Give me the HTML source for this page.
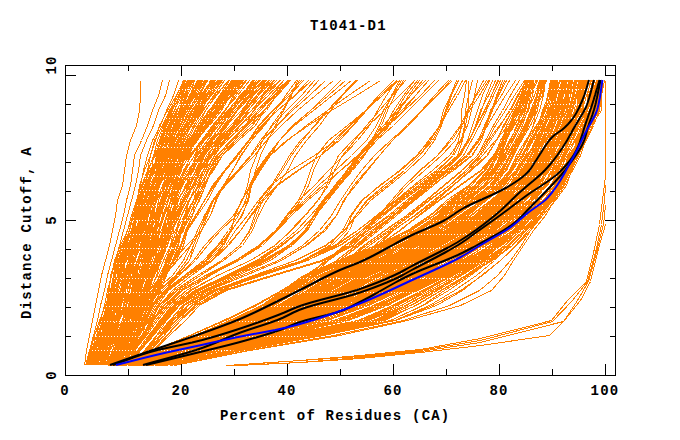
<!DOCTYPE html>
<html><head><meta charset="utf-8"><style>
html,body{margin:0;padding:0;background:#fff;}
body{width:680px;height:440px;overflow:hidden;position:relative;}
svg{position:absolute;left:0;top:0;}
text{font-family:"Liberation Mono",monospace;font-weight:bold;fill:#000;font-size:14px;letter-spacing:1.2px;}
</style></head><body>
<svg width="680" height="440" viewBox="0 0 680 440">
<g fill="none" stroke="#ff8000" stroke-width="1" shape-rendering="crispEdges">
<polyline points="84.5,365.5 86.5,350.5 89.5,335.5 92.5,320.5 95.5,305.5 98.5,290.5 101.5,275.5 105.5,260.5 109.5,245.5 112.5,230.5 115.5,215.5 117.5,200.5 122.5,185.5 124.5,170.5 126.5,155.5 130.5,140.5 136.5,125.5 139.5,110.5 140.5,95.5 140.5,80.5"/>
<polyline points="85.5,365.5 89.5,350.5 93.5,335.5 97.5,320.5 100.5,305.5 104.5,290.5 107.5,275.5 111.5,260.5 115.5,245.5 119.5,230.5 123.5,215.5 126.5,200.5 130.5,185.5 132.5,170.5 134.5,155.5 141.5,140.5 147.5,125.5 152.5,110.5 158.5,95.5 162.5,80.5"/>
<polyline points="87.5,365.5 91.5,350.5 96.5,335.5 100.5,320.5 104.5,305.5 107.5,290.5 111.5,275.5 115.5,260.5 119.5,245.5 123.5,230.5 127.5,215.5 131.5,200.5 135.5,185.5 138.5,170.5 140.5,155.5 146.5,140.5 153.5,125.5 158.5,110.5 165.5,95.5 169.5,80.5"/>
<polyline points="88.5,365.5 93.5,350.5 97.5,335.5 102.5,320.5 106.5,305.5 110.5,290.5 114.5,275.5 118.5,260.5 122.5,245.5 127.5,230.5 131.5,215.5 136.5,200.5 140.5,185.5 143.5,170.5 147.5,155.5 152.5,140.5 160.5,125.5 166.5,110.5 173.5,95.5 178.5,80.5"/>
<polyline points="94.5,365.5 100.5,350.5 105.5,335.5 111.5,320.5 114.5,305.5 118.5,290.5 123.5,275.5 128.5,260.5 129.5,245.5 133.5,230.5 138.5,215.5 143.5,200.5 149.5,185.5 158.5,170.5 168.5,155.5 171.5,140.5 180.5,125.5 185.5,110.5 192.5,95.5 201.5,80.5"/>
<polyline points="88.5,365.5 95.5,350.5 99.5,335.5 103.5,320.5 108.5,305.5 112.5,290.5 113.5,275.5 115.5,260.5 122.5,245.5 131.5,230.5 137.5,215.5 143.5,200.5 147.5,185.5 151.5,170.5 158.5,155.5 164.5,140.5 171.5,125.5 177.5,110.5 182.5,95.5 189.5,80.5"/>
<polyline points="111.5,365.5 118.5,350.5 124.5,335.5 129.5,320.5 135.5,305.5 138.5,290.5 145.5,275.5 149.5,260.5 153.5,245.5 156.5,230.5 160.5,215.5 164.5,200.5 167.5,185.5 174.5,170.5 181.5,155.5 194.5,140.5 204.5,125.5 215.5,110.5 225.5,95.5 237.5,80.5"/>
<polyline points="93.5,365.5 97.5,350.5 104.5,335.5 106.5,320.5 110.5,305.5 115.5,290.5 121.5,275.5 123.5,260.5 130.5,245.5 135.5,230.5 140.5,215.5 144.5,200.5 151.5,185.5 158.5,170.5 165.5,155.5 171.5,140.5 179.5,125.5 187.5,110.5 191.5,95.5 199.5,80.5"/>
<polyline points="90.5,365.5 97.5,350.5 102.5,335.5 107.5,320.5 111.5,305.5 113.5,290.5 115.5,275.5 119.5,260.5 126.5,245.5 131.5,230.5 139.5,215.5 143.5,200.5 148.5,185.5 154.5,170.5 158.5,155.5 164.5,140.5 171.5,125.5 181.5,110.5 185.5,95.5 193.5,80.5"/>
<polyline points="87.5,365.5 93.5,350.5 101.5,335.5 104.5,320.5 111.5,305.5 113.5,290.5 113.5,275.5 116.5,260.5 122.5,245.5 129.5,230.5 132.5,215.5 139.5,200.5 144.5,185.5 148.5,170.5 153.5,155.5 157.5,140.5 163.5,125.5 170.5,110.5 178.5,95.5 187.5,80.5"/>
<polyline points="107.5,365.5 113.5,350.5 122.5,335.5 127.5,320.5 130.5,305.5 134.5,290.5 136.5,275.5 139.5,260.5 141.5,245.5 148.5,230.5 154.5,215.5 161.5,200.5 165.5,185.5 171.5,170.5 182.5,155.5 192.5,140.5 201.5,125.5 209.5,110.5 219.5,95.5 229.5,80.5"/>
<polyline points="105.5,365.5 110.5,350.5 116.5,335.5 122.5,320.5 126.5,305.5 133.5,290.5 138.5,275.5 141.5,260.5 144.5,245.5 149.5,230.5 153.5,215.5 156.5,200.5 159.5,185.5 166.5,170.5 174.5,155.5 183.5,140.5 191.5,125.5 202.5,110.5 214.5,95.5 224.5,80.5"/>
<polyline points="87.5,365.5 93.5,350.5 98.5,335.5 105.5,320.5 110.5,305.5 111.5,290.5 114.5,275.5 121.5,260.5 128.5,245.5 133.5,230.5 136.5,215.5 139.5,200.5 145.5,185.5 151.5,170.5 153.5,155.5 159.5,140.5 164.5,125.5 171.5,110.5 180.5,95.5 188.5,80.5"/>
<polyline points="100.5,365.5 107.5,350.5 116.5,335.5 119.5,320.5 121.5,305.5 124.5,290.5 126.5,275.5 129.5,260.5 137.5,245.5 143.5,230.5 147.5,215.5 150.5,200.5 158.5,185.5 164.5,170.5 170.5,155.5 178.5,140.5 190.5,125.5 198.5,110.5 207.5,95.5 213.5,80.5"/>
<polyline points="99.5,365.5 104.5,350.5 106.5,335.5 110.5,320.5 116.5,305.5 121.5,290.5 126.5,275.5 133.5,260.5 140.5,245.5 146.5,230.5 147.5,215.5 152.5,200.5 156.5,185.5 163.5,170.5 172.5,155.5 178.5,140.5 185.5,125.5 194.5,110.5 203.5,95.5 211.5,80.5"/>
<polyline points="97.5,365.5 100.5,350.5 105.5,335.5 111.5,320.5 118.5,305.5 123.5,290.5 126.5,275.5 133.5,260.5 141.5,245.5 145.5,230.5 145.5,215.5 148.5,200.5 155.5,185.5 160.5,170.5 166.5,155.5 171.5,140.5 180.5,125.5 189.5,110.5 199.5,95.5 207.5,80.5"/>
<polyline points="89.5,365.5 95.5,350.5 98.5,335.5 105.5,320.5 113.5,305.5 117.5,290.5 118.5,275.5 122.5,260.5 128.5,245.5 134.5,230.5 137.5,215.5 140.5,200.5 145.5,185.5 147.5,170.5 154.5,155.5 161.5,140.5 169.5,125.5 179.5,110.5 186.5,95.5 191.5,80.5"/>
<polyline points="99.5,365.5 104.5,350.5 115.5,335.5 118.5,320.5 120.5,305.5 123.5,290.5 128.5,275.5 131.5,260.5 134.5,245.5 138.5,230.5 146.5,215.5 150.5,200.5 159.5,185.5 166.5,170.5 172.5,155.5 180.5,140.5 185.5,125.5 191.5,110.5 203.5,95.5 211.5,80.5"/>
<polyline points="102.5,365.5 107.5,350.5 113.5,335.5 118.5,320.5 119.5,305.5 124.5,290.5 132.5,275.5 138.5,260.5 143.5,245.5 147.5,230.5 150.5,215.5 156.5,200.5 162.5,185.5 168.5,170.5 176.5,155.5 183.5,140.5 191.5,125.5 198.5,110.5 207.5,95.5 218.5,80.5"/>
<polyline points="85.5,365.5 95.5,350.5 100.5,335.5 106.5,320.5 106.5,305.5 108.5,290.5 111.5,275.5 114.5,260.5 120.5,245.5 127.5,230.5 133.5,215.5 136.5,200.5 145.5,185.5 152.5,170.5 157.5,155.5 160.5,140.5 165.5,125.5 171.5,110.5 176.5,95.5 184.5,80.5"/>
<polyline points="87.5,365.5 93.5,350.5 94.5,335.5 99.5,320.5 105.5,305.5 110.5,290.5 113.5,275.5 120.5,260.5 127.5,245.5 134.5,230.5 136.5,215.5 139.5,200.5 145.5,185.5 156.5,170.5 158.5,155.5 162.5,140.5 166.5,125.5 172.5,110.5 179.5,95.5 187.5,80.5"/>
<polyline points="99.5,365.5 104.5,350.5 109.5,335.5 114.5,320.5 118.5,305.5 124.5,290.5 129.5,275.5 134.5,260.5 137.5,245.5 142.5,230.5 147.5,215.5 149.5,200.5 153.5,185.5 160.5,170.5 164.5,155.5 175.5,140.5 185.5,125.5 192.5,110.5 204.5,95.5 211.5,80.5"/>
<polyline points="109.5,365.5 114.5,350.5 119.5,335.5 124.5,320.5 128.5,305.5 134.5,290.5 139.5,275.5 143.5,260.5 146.5,245.5 150.5,230.5 157.5,215.5 165.5,200.5 171.5,185.5 179.5,170.5 184.5,155.5 192.5,140.5 202.5,125.5 212.5,110.5 221.5,95.5 232.5,80.5"/>
<polyline points="85.5,365.5 90.5,350.5 94.5,335.5 101.5,320.5 108.5,305.5 113.5,290.5 113.5,275.5 118.5,260.5 125.5,245.5 131.5,230.5 135.5,215.5 138.5,200.5 142.5,185.5 147.5,170.5 150.5,155.5 155.5,140.5 159.5,125.5 167.5,110.5 176.5,95.5 183.5,80.5"/>
<polyline points="105.5,365.5 112.5,350.5 116.5,335.5 119.5,320.5 126.5,305.5 132.5,290.5 136.5,275.5 137.5,260.5 144.5,245.5 146.5,230.5 153.5,215.5 156.5,200.5 157.5,185.5 167.5,170.5 177.5,155.5 186.5,140.5 193.5,125.5 203.5,110.5 213.5,95.5 224.5,80.5"/>
<polyline points="111.5,365.5 118.5,350.5 122.5,335.5 128.5,320.5 133.5,305.5 136.5,290.5 142.5,275.5 143.5,260.5 144.5,245.5 149.5,230.5 158.5,215.5 164.5,200.5 170.5,185.5 175.5,170.5 182.5,155.5 191.5,140.5 206.5,125.5 215.5,110.5 227.5,95.5 235.5,80.5"/>
<polyline points="108.5,365.5 114.5,350.5 124.5,335.5 127.5,320.5 130.5,305.5 132.5,290.5 134.5,275.5 137.5,260.5 142.5,245.5 150.5,230.5 153.5,215.5 163.5,200.5 168.5,185.5 176.5,170.5 183.5,155.5 189.5,140.5 197.5,125.5 209.5,110.5 219.5,95.5 229.5,80.5"/>
<polyline points="107.5,365.5 112.5,350.5 117.5,335.5 123.5,320.5 126.5,305.5 129.5,290.5 133.5,275.5 143.5,260.5 148.5,245.5 155.5,230.5 159.5,215.5 162.5,200.5 167.5,185.5 173.5,170.5 177.5,155.5 187.5,140.5 195.5,125.5 205.5,110.5 216.5,95.5 228.5,80.5"/>
<polyline points="90.5,365.5 100.5,350.5 104.5,335.5 106.5,320.5 109.5,305.5 112.5,290.5 115.5,275.5 117.5,260.5 125.5,245.5 132.5,230.5 137.5,215.5 141.5,200.5 146.5,185.5 152.5,170.5 158.5,155.5 163.5,140.5 170.5,125.5 179.5,110.5 185.5,95.5 192.5,80.5"/>
<polyline points="92.5,365.5 98.5,350.5 104.5,335.5 110.5,320.5 115.5,305.5 120.5,290.5 123.5,275.5 128.5,260.5 130.5,245.5 135.5,230.5 140.5,215.5 142.5,200.5 145.5,185.5 154.5,170.5 160.5,155.5 169.5,140.5 177.5,125.5 183.5,110.5 192.5,95.5 198.5,80.5"/>
<polyline points="111.5,365.5 119.5,350.5 124.5,335.5 128.5,320.5 131.5,305.5 135.5,290.5 137.5,275.5 145.5,260.5 149.5,245.5 156.5,230.5 158.5,215.5 162.5,200.5 168.5,185.5 175.5,170.5 185.5,155.5 197.5,140.5 207.5,125.5 216.5,110.5 226.5,95.5 236.5,80.5"/>
<polyline points="101.5,365.5 109.5,350.5 113.5,335.5 118.5,320.5 120.5,305.5 121.5,290.5 126.5,275.5 134.5,260.5 140.5,245.5 143.5,230.5 146.5,215.5 151.5,200.5 157.5,185.5 163.5,170.5 168.5,155.5 177.5,140.5 187.5,125.5 196.5,110.5 205.5,95.5 215.5,80.5"/>
<polyline points="94.5,365.5 98.5,350.5 105.5,335.5 108.5,320.5 115.5,305.5 117.5,290.5 120.5,275.5 125.5,260.5 130.5,245.5 141.5,230.5 146.5,215.5 149.5,200.5 153.5,185.5 159.5,170.5 165.5,155.5 170.5,140.5 173.5,125.5 182.5,110.5 192.5,95.5 202.5,80.5"/>
<polyline points="111.5,365.5 119.5,350.5 126.5,335.5 129.5,320.5 132.5,305.5 136.5,290.5 143.5,275.5 147.5,260.5 150.5,245.5 156.5,230.5 156.5,215.5 160.5,200.5 167.5,185.5 174.5,170.5 182.5,155.5 192.5,140.5 204.5,125.5 217.5,110.5 224.5,95.5 237.5,80.5"/>
<polyline points="111.5,365.5 117.5,350.5 122.5,335.5 128.5,320.5 129.5,305.5 134.5,290.5 140.5,275.5 143.5,260.5 150.5,245.5 156.5,230.5 160.5,215.5 162.5,200.5 168.5,185.5 176.5,170.5 188.5,155.5 196.5,140.5 207.5,125.5 216.5,110.5 223.5,95.5 236.5,80.5"/>
<polyline points="92.5,365.5 96.5,350.5 104.5,335.5 111.5,320.5 116.5,305.5 123.5,290.5 123.5,275.5 125.5,260.5 130.5,245.5 136.5,230.5 139.5,215.5 141.5,200.5 145.5,185.5 153.5,170.5 162.5,155.5 172.5,140.5 177.5,125.5 186.5,110.5 192.5,95.5 198.5,80.5"/>
<polyline points="107.5,365.5 109.5,350.5 113.5,335.5 122.5,320.5 128.5,305.5 133.5,290.5 137.5,275.5 145.5,260.5 149.5,245.5 155.5,230.5 157.5,215.5 163.5,200.5 167.5,185.5 172.5,170.5 178.5,155.5 188.5,140.5 198.5,125.5 205.5,110.5 215.5,95.5 228.5,80.5"/>
<polyline points="96.5,365.5 101.5,350.5 104.5,335.5 112.5,320.5 117.5,305.5 123.5,290.5 124.5,275.5 129.5,260.5 136.5,245.5 141.5,230.5 148.5,215.5 150.5,200.5 153.5,185.5 159.5,170.5 166.5,155.5 170.5,140.5 176.5,125.5 187.5,110.5 198.5,95.5 206.5,80.5"/>
<polyline points="112.5,365.5 117.5,350.5 122.5,335.5 128.5,320.5 136.5,305.5 139.5,290.5 143.5,275.5 144.5,260.5 149.5,245.5 153.5,230.5 158.5,215.5 167.5,200.5 174.5,185.5 177.5,170.5 187.5,155.5 196.5,140.5 205.5,125.5 216.5,110.5 225.5,95.5 238.5,80.5"/>
<polyline points="91.5,365.5 97.5,350.5 101.5,335.5 107.5,320.5 111.5,305.5 116.5,290.5 118.5,275.5 121.5,260.5 128.5,245.5 134.5,230.5 136.5,215.5 139.5,200.5 142.5,185.5 150.5,170.5 158.5,155.5 163.5,140.5 170.5,125.5 179.5,110.5 190.5,95.5 194.5,80.5"/>
<polyline points="93.5,365.5 97.5,350.5 101.5,335.5 105.5,320.5 111.5,305.5 120.5,290.5 123.5,275.5 128.5,260.5 133.5,245.5 141.5,230.5 144.5,215.5 146.5,200.5 149.5,185.5 157.5,170.5 162.5,155.5 168.5,140.5 171.5,125.5 182.5,110.5 192.5,95.5 200.5,80.5"/>
<polyline points="99.5,365.5 107.5,350.5 113.5,335.5 115.5,320.5 118.5,305.5 122.5,290.5 125.5,275.5 129.5,260.5 134.5,245.5 144.5,230.5 147.5,215.5 154.5,200.5 159.5,185.5 167.5,170.5 170.5,155.5 177.5,140.5 182.5,125.5 191.5,110.5 202.5,95.5 211.5,80.5"/>
<polyline points="107.5,365.5 113.5,350.5 120.5,335.5 125.5,320.5 126.5,305.5 133.5,290.5 137.5,275.5 138.5,260.5 146.5,245.5 149.5,230.5 156.5,215.5 160.5,200.5 165.5,185.5 169.5,170.5 177.5,155.5 189.5,140.5 200.5,125.5 212.5,110.5 220.5,95.5 229.5,80.5"/>
<polyline points="97.5,365.5 102.5,350.5 107.5,335.5 116.5,320.5 120.5,305.5 123.5,290.5 128.5,275.5 130.5,260.5 136.5,245.5 140.5,230.5 143.5,215.5 151.5,200.5 153.5,185.5 160.5,170.5 164.5,155.5 170.5,140.5 177.5,125.5 187.5,110.5 197.5,95.5 207.5,80.5"/>
<polyline points="111.5,365.5 119.5,350.5 125.5,335.5 131.5,320.5 133.5,305.5 134.5,290.5 140.5,275.5 145.5,260.5 147.5,245.5 153.5,230.5 159.5,215.5 162.5,200.5 171.5,185.5 175.5,170.5 185.5,155.5 193.5,140.5 205.5,125.5 218.5,110.5 224.5,95.5 235.5,80.5"/>
<polyline points="92.5,365.5 99.5,350.5 103.5,335.5 103.5,320.5 110.5,305.5 112.5,290.5 117.5,275.5 122.5,260.5 129.5,245.5 139.5,230.5 141.5,215.5 145.5,200.5 152.5,185.5 156.5,170.5 163.5,155.5 168.5,140.5 176.5,125.5 185.5,110.5 190.5,95.5 197.5,80.5"/>
<polyline points="112.5,365.5 114.5,350.5 121.5,335.5 122.5,320.5 128.5,305.5 136.5,290.5 142.5,275.5 148.5,260.5 152.5,245.5 156.5,230.5 163.5,215.5 168.5,200.5 173.5,185.5 177.5,170.5 185.5,155.5 195.5,140.5 202.5,125.5 212.5,110.5 226.5,95.5 237.5,80.5"/>
<polyline points="86.5,365.5 93.5,350.5 97.5,335.5 102.5,320.5 107.5,305.5 111.5,290.5 117.5,275.5 118.5,260.5 124.5,245.5 131.5,230.5 135.5,215.5 137.5,200.5 139.5,185.5 144.5,170.5 150.5,155.5 154.5,140.5 162.5,125.5 169.5,110.5 178.5,95.5 184.5,80.5"/>
<polyline points="102.5,365.5 108.5,350.5 114.5,335.5 117.5,320.5 120.5,305.5 125.5,290.5 125.5,275.5 133.5,260.5 142.5,245.5 146.5,230.5 150.5,215.5 154.5,200.5 159.5,185.5 167.5,170.5 177.5,155.5 184.5,140.5 194.5,125.5 201.5,110.5 207.5,95.5 219.5,80.5"/>
<polyline points="109.5,365.5 114.5,350.5 118.5,335.5 124.5,320.5 130.5,305.5 137.5,290.5 140.5,275.5 144.5,260.5 149.5,245.5 153.5,230.5 160.5,215.5 164.5,200.5 166.5,185.5 171.5,170.5 177.5,155.5 189.5,140.5 200.5,125.5 211.5,110.5 223.5,95.5 232.5,80.5"/>
<polyline points="111.5,365.5 119.5,350.5 125.5,335.5 128.5,320.5 135.5,305.5 138.5,290.5 141.5,275.5 145.5,260.5 147.5,245.5 153.5,230.5 158.5,215.5 164.5,200.5 168.5,185.5 177.5,170.5 185.5,155.5 194.5,140.5 202.5,125.5 214.5,110.5 226.5,95.5 236.5,80.5"/>
<polyline points="93.5,365.5 99.5,350.5 107.5,335.5 108.5,320.5 111.5,305.5 115.5,290.5 119.5,275.5 126.5,260.5 132.5,245.5 137.5,230.5 141.5,215.5 143.5,200.5 151.5,185.5 159.5,170.5 167.5,155.5 172.5,140.5 178.5,125.5 182.5,110.5 193.5,95.5 200.5,80.5"/>
<polyline points="110.5,365.5 117.5,350.5 121.5,335.5 128.5,320.5 133.5,305.5 136.5,290.5 139.5,275.5 144.5,260.5 152.5,245.5 154.5,230.5 159.5,215.5 165.5,200.5 170.5,185.5 176.5,170.5 181.5,155.5 191.5,140.5 200.5,125.5 208.5,110.5 222.5,95.5 233.5,80.5"/>
<polyline points="99.5,365.5 103.5,350.5 108.5,335.5 114.5,320.5 120.5,305.5 129.5,290.5 130.5,275.5 135.5,260.5 138.5,245.5 143.5,230.5 146.5,215.5 151.5,200.5 157.5,185.5 161.5,170.5 169.5,155.5 174.5,140.5 182.5,125.5 189.5,110.5 200.5,95.5 211.5,80.5"/>
<polyline points="94.5,365.5 100.5,350.5 104.5,335.5 109.5,320.5 112.5,305.5 120.5,290.5 125.5,275.5 130.5,260.5 136.5,245.5 142.5,230.5 147.5,215.5 149.5,200.5 153.5,185.5 156.5,170.5 165.5,155.5 167.5,140.5 173.5,125.5 181.5,110.5 195.5,95.5 202.5,80.5"/>
<polyline points="99.5,365.5 106.5,350.5 110.5,335.5 114.5,320.5 119.5,305.5 120.5,290.5 124.5,275.5 128.5,260.5 136.5,245.5 141.5,230.5 147.5,215.5 153.5,200.5 159.5,185.5 164.5,170.5 170.5,155.5 178.5,140.5 184.5,125.5 194.5,110.5 202.5,95.5 211.5,80.5"/>
<polyline points="104.5,365.5 108.5,350.5 114.5,335.5 117.5,320.5 126.5,305.5 131.5,290.5 133.5,275.5 140.5,260.5 144.5,245.5 152.5,230.5 159.5,215.5 161.5,200.5 164.5,185.5 168.5,170.5 173.5,155.5 182.5,140.5 188.5,125.5 198.5,110.5 211.5,95.5 222.5,80.5"/>
<polyline points="86.5,365.5 90.5,350.5 99.5,335.5 103.5,320.5 107.5,305.5 109.5,290.5 110.5,275.5 115.5,260.5 123.5,245.5 129.5,230.5 133.5,215.5 140.5,200.5 147.5,185.5 153.5,170.5 156.5,155.5 161.5,140.5 166.5,125.5 174.5,110.5 179.5,95.5 185.5,80.5"/>
<polyline points="93.5,365.5 98.5,350.5 102.5,335.5 108.5,320.5 113.5,305.5 116.5,290.5 122.5,275.5 130.5,260.5 136.5,245.5 142.5,230.5 144.5,215.5 144.5,200.5 149.5,185.5 157.5,170.5 159.5,155.5 167.5,140.5 174.5,125.5 185.5,110.5 193.5,95.5 200.5,80.5"/>
<polyline points="99.5,365.5 106.5,350.5 111.5,335.5 117.5,320.5 124.5,305.5 124.5,290.5 129.5,275.5 132.5,260.5 137.5,245.5 138.5,230.5 145.5,215.5 149.5,200.5 155.5,185.5 164.5,170.5 171.5,155.5 178.5,140.5 187.5,125.5 195.5,110.5 203.5,95.5 212.5,80.5"/>
<polyline points="95.5,365.5 103.5,350.5 107.5,335.5 109.5,320.5 111.5,305.5 116.5,290.5 120.5,275.5 126.5,260.5 134.5,245.5 141.5,230.5 143.5,215.5 149.5,200.5 152.5,185.5 160.5,170.5 167.5,155.5 173.5,140.5 177.5,125.5 184.5,110.5 193.5,95.5 202.5,80.5"/>
<polyline points="88.5,365.5 94.5,350.5 98.5,335.5 102.5,320.5 108.5,305.5 111.5,290.5 117.5,275.5 124.5,260.5 131.5,245.5 136.5,230.5 139.5,215.5 141.5,200.5 144.5,185.5 153.5,170.5 158.5,155.5 160.5,140.5 168.5,125.5 176.5,110.5 184.5,95.5 190.5,80.5"/>
<polyline points="89.5,365.5 93.5,350.5 97.5,335.5 103.5,320.5 109.5,305.5 116.5,290.5 117.5,275.5 119.5,260.5 128.5,245.5 137.5,230.5 140.5,215.5 145.5,200.5 147.5,185.5 154.5,170.5 160.5,155.5 166.5,140.5 171.5,125.5 179.5,110.5 183.5,95.5 191.5,80.5"/>
<polyline points="104.5,365.5 106.5,350.5 110.5,335.5 118.5,320.5 123.5,305.5 129.5,290.5 132.5,275.5 137.5,260.5 143.5,245.5 150.5,230.5 157.5,215.5 158.5,200.5 164.5,185.5 168.5,170.5 174.5,155.5 181.5,140.5 190.5,125.5 197.5,110.5 210.5,95.5 221.5,80.5"/>
<polyline points="111.5,365.5 117.5,350.5 122.5,335.5 131.5,320.5 135.5,305.5 140.5,290.5 146.5,275.5 147.5,260.5 152.5,245.5 154.5,230.5 159.5,215.5 167.5,200.5 171.5,185.5 176.5,170.5 182.5,155.5 191.5,140.5 199.5,125.5 209.5,110.5 222.5,95.5 236.5,80.5"/>
<polyline points="100.5,365.5 105.5,350.5 112.5,335.5 115.5,320.5 120.5,305.5 124.5,290.5 130.5,275.5 137.5,260.5 144.5,245.5 148.5,230.5 150.5,215.5 150.5,200.5 157.5,185.5 165.5,170.5 170.5,155.5 175.5,140.5 184.5,125.5 192.5,110.5 203.5,95.5 213.5,80.5"/>
<polyline points="110.5,365.5 114.5,350.5 118.5,335.5 124.5,320.5 130.5,305.5 135.5,290.5 143.5,275.5 147.5,260.5 151.5,245.5 153.5,230.5 159.5,215.5 164.5,200.5 171.5,185.5 175.5,170.5 180.5,155.5 188.5,140.5 200.5,125.5 211.5,110.5 223.5,95.5 234.5,80.5"/>
<polyline points="92.5,365.5 97.5,350.5 103.5,335.5 106.5,320.5 111.5,305.5 116.5,290.5 119.5,275.5 125.5,260.5 129.5,245.5 131.5,230.5 136.5,215.5 143.5,200.5 151.5,185.5 158.5,170.5 164.5,155.5 171.5,140.5 175.5,125.5 182.5,110.5 189.5,95.5 197.5,80.5"/>
<polyline points="89.5,365.5 97.5,350.5 102.5,335.5 107.5,320.5 112.5,305.5 113.5,290.5 119.5,275.5 122.5,260.5 129.5,245.5 138.5,230.5 139.5,215.5 140.5,200.5 144.5,185.5 149.5,170.5 159.5,155.5 164.5,140.5 168.5,125.5 174.5,110.5 181.5,95.5 191.5,80.5"/>
<polyline points="111.5,365.5 115.5,350.5 122.5,335.5 124.5,320.5 131.5,305.5 135.5,290.5 141.5,275.5 149.5,260.5 155.5,245.5 159.5,230.5 162.5,215.5 163.5,200.5 170.5,185.5 174.5,170.5 183.5,155.5 192.5,140.5 201.5,125.5 211.5,110.5 225.5,95.5 236.5,80.5"/>
<polyline points="111.5,365.5 115.5,350.5 116.5,335.5 125.5,320.5 134.5,305.5 138.5,290.5 141.5,275.5 144.5,260.5 150.5,245.5 158.5,230.5 162.5,215.5 168.5,200.5 174.5,185.5 180.5,170.5 184.5,155.5 191.5,140.5 202.5,125.5 215.5,110.5 224.5,95.5 235.5,80.5"/>
<polyline points="101.5,365.5 106.5,350.5 111.5,335.5 119.5,320.5 125.5,305.5 129.5,290.5 132.5,275.5 134.5,260.5 140.5,245.5 147.5,230.5 150.5,215.5 150.5,200.5 156.5,185.5 164.5,170.5 168.5,155.5 178.5,140.5 190.5,125.5 200.5,110.5 206.5,95.5 215.5,80.5"/>
<polyline points="92.5,365.5 95.5,350.5 102.5,335.5 110.5,320.5 114.5,305.5 115.5,290.5 118.5,275.5 124.5,260.5 130.5,245.5 137.5,230.5 142.5,215.5 148.5,200.5 151.5,185.5 156.5,170.5 161.5,155.5 169.5,140.5 175.5,125.5 182.5,110.5 191.5,95.5 197.5,80.5"/>
<polyline points="95.5,365.5 101.5,350.5 107.5,335.5 113.5,320.5 121.5,305.5 124.5,290.5 126.5,275.5 130.5,260.5 133.5,245.5 139.5,230.5 141.5,215.5 147.5,200.5 153.5,185.5 160.5,170.5 165.5,155.5 167.5,140.5 173.5,125.5 183.5,110.5 194.5,95.5 204.5,80.5"/>
<polyline points="87.5,365.5 92.5,350.5 101.5,335.5 105.5,320.5 110.5,305.5 117.5,290.5 117.5,275.5 118.5,260.5 124.5,245.5 132.5,230.5 135.5,215.5 136.5,200.5 141.5,185.5 147.5,170.5 155.5,155.5 160.5,140.5 165.5,125.5 174.5,110.5 181.5,95.5 188.5,80.5"/>
<polyline points="95.5,365.5 101.5,350.5 109.5,335.5 110.5,320.5 114.5,305.5 120.5,290.5 126.5,275.5 129.5,260.5 134.5,245.5 143.5,230.5 148.5,215.5 148.5,200.5 151.5,185.5 157.5,170.5 163.5,155.5 172.5,140.5 177.5,125.5 184.5,110.5 192.5,95.5 202.5,80.5"/>
<polyline points="103.5,365.5 110.5,350.5 116.5,335.5 122.5,320.5 125.5,305.5 131.5,290.5 134.5,275.5 140.5,260.5 145.5,245.5 150.5,230.5 155.5,215.5 158.5,200.5 163.5,185.5 166.5,170.5 172.5,155.5 179.5,140.5 190.5,125.5 199.5,110.5 210.5,95.5 220.5,80.5"/>
<polyline points="100.5,365.5 108.5,350.5 112.5,335.5 117.5,320.5 124.5,305.5 127.5,290.5 132.5,275.5 132.5,260.5 137.5,245.5 139.5,230.5 147.5,215.5 151.5,200.5 155.5,185.5 163.5,170.5 170.5,155.5 179.5,140.5 187.5,125.5 196.5,110.5 206.5,95.5 213.5,80.5"/>
<polyline points="112.5,365.5 117.5,350.5 125.5,335.5 128.5,320.5 137.5,305.5 139.5,290.5 141.5,275.5 144.5,260.5 151.5,245.5 154.5,230.5 156.5,215.5 163.5,200.5 173.5,185.5 178.5,170.5 186.5,155.5 194.5,140.5 206.5,125.5 218.5,110.5 228.5,95.5 238.5,80.5"/>
<polyline points="90.5,365.5 98.5,350.5 106.5,335.5 112.5,320.5 114.5,305.5 114.5,290.5 115.5,275.5 121.5,260.5 127.5,245.5 135.5,230.5 136.5,215.5 142.5,200.5 144.5,185.5 153.5,170.5 160.5,155.5 164.5,140.5 169.5,125.5 180.5,110.5 187.5,95.5 194.5,80.5"/>
<polyline points="109.5,365.5 116.5,350.5 121.5,335.5 126.5,320.5 128.5,305.5 131.5,290.5 135.5,275.5 142.5,260.5 147.5,245.5 151.5,230.5 155.5,215.5 162.5,200.5 168.5,185.5 175.5,170.5 179.5,155.5 190.5,140.5 201.5,125.5 211.5,110.5 221.5,95.5 231.5,80.5"/>
<polyline points="99.5,365.5 104.5,350.5 112.5,335.5 113.5,320.5 116.5,305.5 122.5,290.5 124.5,275.5 128.5,260.5 137.5,245.5 143.5,230.5 147.5,215.5 154.5,200.5 158.5,185.5 169.5,170.5 175.5,155.5 178.5,140.5 185.5,125.5 194.5,110.5 203.5,95.5 212.5,80.5"/>
<polyline points="93.5,365.5 100.5,350.5 106.5,335.5 108.5,320.5 115.5,305.5 121.5,290.5 122.5,275.5 125.5,260.5 129.5,245.5 132.5,230.5 136.5,215.5 144.5,200.5 151.5,185.5 157.5,170.5 162.5,155.5 167.5,140.5 175.5,125.5 186.5,110.5 194.5,95.5 198.5,80.5"/>
<polyline points="110.5,365.5 113.5,350.5 119.5,335.5 126.5,320.5 131.5,305.5 137.5,290.5 139.5,275.5 145.5,260.5 153.5,245.5 156.5,230.5 159.5,215.5 164.5,200.5 168.5,185.5 174.5,170.5 180.5,155.5 190.5,140.5 202.5,125.5 211.5,110.5 219.5,95.5 233.5,80.5"/>
<polyline points="102.5,365.5 107.5,350.5 114.5,335.5 119.5,320.5 126.5,305.5 127.5,290.5 128.5,275.5 132.5,260.5 137.5,245.5 146.5,230.5 152.5,215.5 155.5,200.5 159.5,185.5 167.5,170.5 175.5,155.5 181.5,140.5 191.5,125.5 201.5,110.5 209.5,95.5 218.5,80.5"/>
<polyline points="96.5,365.5 104.5,350.5 108.5,335.5 109.5,320.5 115.5,305.5 120.5,290.5 124.5,275.5 128.5,260.5 132.5,245.5 138.5,230.5 142.5,215.5 145.5,200.5 153.5,185.5 162.5,170.5 171.5,155.5 174.5,140.5 180.5,125.5 189.5,110.5 196.5,95.5 205.5,80.5"/>
<polyline points="100.5,365.5 104.5,350.5 111.5,335.5 112.5,320.5 115.5,305.5 121.5,290.5 128.5,275.5 135.5,260.5 137.5,245.5 142.5,230.5 148.5,215.5 153.5,200.5 158.5,185.5 168.5,170.5 175.5,155.5 182.5,140.5 188.5,125.5 197.5,110.5 206.5,95.5 214.5,80.5"/>
<polyline points="99.5,365.5 104.5,350.5 108.5,335.5 116.5,320.5 118.5,305.5 125.5,290.5 130.5,275.5 133.5,260.5 140.5,245.5 146.5,230.5 151.5,215.5 156.5,200.5 159.5,185.5 162.5,170.5 167.5,155.5 175.5,140.5 182.5,125.5 192.5,110.5 201.5,95.5 211.5,80.5"/>
<polyline points="96.5,365.5 100.5,350.5 101.5,335.5 107.5,320.5 113.5,305.5 121.5,290.5 125.5,275.5 128.5,260.5 137.5,245.5 141.5,230.5 147.5,215.5 150.5,200.5 156.5,185.5 160.5,170.5 165.5,155.5 171.5,140.5 173.5,125.5 182.5,110.5 196.5,95.5 204.5,80.5"/>
<polyline points="98.5,365.5 104.5,350.5 110.5,335.5 118.5,320.5 124.5,305.5 125.5,290.5 129.5,275.5 131.5,260.5 135.5,245.5 138.5,230.5 143.5,215.5 149.5,200.5 157.5,185.5 165.5,170.5 172.5,155.5 178.5,140.5 184.5,125.5 194.5,110.5 203.5,95.5 210.5,80.5"/>
<polyline points="112.5,365.5 118.5,350.5 122.5,335.5 124.5,320.5 132.5,305.5 138.5,290.5 144.5,275.5 147.5,260.5 151.5,245.5 154.5,230.5 157.5,215.5 161.5,200.5 168.5,185.5 176.5,170.5 183.5,155.5 193.5,140.5 207.5,125.5 219.5,110.5 227.5,95.5 238.5,80.5"/>
<polyline points="112.5,365.5 114.5,350.5 120.5,335.5 128.5,320.5 132.5,305.5 137.5,290.5 140.5,275.5 148.5,260.5 154.5,245.5 158.5,230.5 163.5,215.5 168.5,200.5 175.5,185.5 177.5,170.5 181.5,155.5 188.5,140.5 200.5,125.5 214.5,110.5 224.5,95.5 238.5,80.5"/>
<polyline points="88.5,365.5 93.5,350.5 102.5,335.5 106.5,320.5 111.5,305.5 112.5,290.5 113.5,275.5 116.5,260.5 121.5,245.5 131.5,230.5 134.5,215.5 137.5,200.5 144.5,185.5 152.5,170.5 157.5,155.5 165.5,140.5 169.5,125.5 177.5,110.5 182.5,95.5 189.5,80.5"/>
<polyline points="102.5,365.5 110.5,350.5 115.5,335.5 118.5,320.5 123.5,305.5 125.5,290.5 129.5,275.5 130.5,260.5 137.5,245.5 147.5,230.5 151.5,215.5 156.5,200.5 164.5,185.5 170.5,170.5 176.5,155.5 179.5,140.5 186.5,125.5 196.5,110.5 205.5,95.5 217.5,80.5"/>
<polyline points="129.5,365.5 133.5,350.5 137.5,335.5 143.5,320.5 148.5,305.5 156.5,290.5 163.5,275.5 168.5,260.5 173.5,245.5 179.5,230.5 189.5,215.5 195.5,200.5 202.5,185.5 213.5,170.5 222.5,155.5 238.5,140.5 255.5,125.5 264.5,110.5 276.5,95.5 290.5,80.5"/>
<polyline points="127.5,365.5 130.5,350.5 137.5,335.5 142.5,320.5 147.5,305.5 154.5,290.5 160.5,275.5 170.5,260.5 175.5,245.5 183.5,230.5 187.5,215.5 193.5,200.5 197.5,185.5 203.5,170.5 210.5,155.5 227.5,140.5 240.5,125.5 256.5,110.5 271.5,95.5 283.5,80.5"/>
<polyline points="117.5,365.5 119.5,350.5 123.5,335.5 132.5,320.5 136.5,305.5 143.5,290.5 149.5,275.5 158.5,260.5 163.5,245.5 167.5,230.5 169.5,215.5 172.5,200.5 178.5,185.5 184.5,170.5 190.5,155.5 203.5,140.5 214.5,125.5 228.5,110.5 242.5,95.5 253.5,80.5"/>
<polyline points="126.5,365.5 131.5,350.5 134.5,335.5 141.5,320.5 150.5,305.5 158.5,290.5 162.5,275.5 169.5,260.5 173.5,245.5 180.5,230.5 184.5,215.5 188.5,200.5 198.5,185.5 205.5,170.5 214.5,155.5 223.5,140.5 237.5,125.5 251.5,110.5 265.5,95.5 280.5,80.5"/>
<polyline points="117.5,365.5 123.5,350.5 128.5,335.5 132.5,320.5 137.5,305.5 141.5,290.5 144.5,275.5 149.5,260.5 159.5,245.5 165.5,230.5 169.5,215.5 177.5,200.5 187.5,185.5 192.5,170.5 196.5,155.5 207.5,140.5 218.5,125.5 229.5,110.5 239.5,95.5 254.5,80.5"/>
<polyline points="128.5,365.5 132.5,350.5 136.5,335.5 143.5,320.5 146.5,305.5 156.5,290.5 164.5,275.5 173.5,260.5 180.5,245.5 186.5,230.5 192.5,215.5 195.5,200.5 202.5,185.5 208.5,170.5 219.5,155.5 234.5,140.5 244.5,125.5 258.5,110.5 271.5,95.5 287.5,80.5"/>
<polyline points="125.5,365.5 128.5,350.5 132.5,335.5 139.5,320.5 146.5,305.5 152.5,290.5 159.5,275.5 166.5,260.5 173.5,245.5 177.5,230.5 178.5,215.5 183.5,200.5 192.5,185.5 200.5,170.5 212.5,155.5 224.5,140.5 239.5,125.5 254.5,110.5 262.5,95.5 276.5,80.5"/>
<polyline points="122.5,365.5 127.5,350.5 132.5,335.5 139.5,320.5 144.5,305.5 146.5,290.5 152.5,275.5 159.5,260.5 164.5,245.5 168.5,230.5 176.5,215.5 184.5,200.5 194.5,185.5 200.5,170.5 206.5,155.5 219.5,140.5 232.5,125.5 242.5,110.5 253.5,95.5 268.5,80.5"/>
<polyline points="113.5,365.5 119.5,350.5 125.5,335.5 131.5,320.5 134.5,305.5 139.5,290.5 146.5,275.5 149.5,260.5 157.5,245.5 162.5,230.5 167.5,215.5 170.5,200.5 173.5,185.5 178.5,170.5 185.5,155.5 194.5,140.5 205.5,125.5 219.5,110.5 231.5,95.5 242.5,80.5"/>
<polyline points="117.5,365.5 124.5,350.5 129.5,335.5 131.5,320.5 136.5,305.5 145.5,290.5 148.5,275.5 152.5,260.5 157.5,245.5 163.5,230.5 171.5,215.5 174.5,200.5 179.5,185.5 189.5,170.5 199.5,155.5 210.5,140.5 220.5,125.5 231.5,110.5 243.5,95.5 254.5,80.5"/>
<polyline points="121.5,365.5 125.5,350.5 129.5,335.5 135.5,320.5 138.5,305.5 143.5,290.5 149.5,275.5 155.5,260.5 165.5,245.5 170.5,230.5 179.5,215.5 186.5,200.5 193.5,185.5 199.5,170.5 204.5,155.5 215.5,140.5 226.5,125.5 237.5,110.5 250.5,95.5 265.5,80.5"/>
<polyline points="120.5,365.5 124.5,350.5 128.5,335.5 132.5,320.5 137.5,305.5 145.5,290.5 152.5,275.5 159.5,260.5 163.5,245.5 169.5,230.5 176.5,215.5 184.5,200.5 190.5,185.5 197.5,170.5 202.5,155.5 215.5,140.5 227.5,125.5 237.5,110.5 249.5,95.5 262.5,80.5"/>
<polyline points="129.5,365.5 132.5,350.5 136.5,335.5 141.5,320.5 147.5,305.5 156.5,290.5 161.5,275.5 167.5,260.5 173.5,245.5 182.5,230.5 191.5,215.5 199.5,200.5 205.5,185.5 211.5,170.5 222.5,155.5 234.5,140.5 249.5,125.5 266.5,110.5 276.5,95.5 289.5,80.5"/>
<polyline points="114.5,365.5 117.5,350.5 122.5,335.5 127.5,320.5 129.5,305.5 135.5,290.5 140.5,275.5 148.5,260.5 157.5,245.5 162.5,230.5 167.5,215.5 173.5,200.5 177.5,185.5 185.5,170.5 189.5,155.5 194.5,140.5 208.5,125.5 219.5,110.5 230.5,95.5 243.5,80.5"/>
<polyline points="129.5,365.5 132.5,350.5 134.5,335.5 141.5,320.5 147.5,305.5 157.5,290.5 166.5,275.5 172.5,260.5 180.5,245.5 185.5,230.5 192.5,215.5 198.5,200.5 205.5,185.5 211.5,170.5 217.5,155.5 232.5,140.5 247.5,125.5 263.5,110.5 277.5,95.5 290.5,80.5"/>
<polyline points="127.5,365.5 133.5,350.5 136.5,335.5 142.5,320.5 149.5,305.5 152.5,290.5 161.5,275.5 166.5,260.5 170.5,245.5 176.5,230.5 184.5,215.5 193.5,200.5 200.5,185.5 208.5,170.5 217.5,155.5 230.5,140.5 245.5,125.5 253.5,110.5 268.5,95.5 283.5,80.5"/>
<polyline points="117.5,365.5 122.5,350.5 125.5,335.5 127.5,320.5 136.5,305.5 144.5,290.5 152.5,275.5 158.5,260.5 163.5,245.5 165.5,230.5 168.5,215.5 173.5,200.5 178.5,185.5 185.5,170.5 194.5,155.5 204.5,140.5 218.5,125.5 230.5,110.5 244.5,95.5 254.5,80.5"/>
<polyline points="123.5,365.5 128.5,350.5 133.5,335.5 137.5,320.5 143.5,305.5 150.5,290.5 156.5,275.5 160.5,260.5 167.5,245.5 170.5,230.5 174.5,215.5 183.5,200.5 194.5,185.5 199.5,170.5 209.5,155.5 223.5,140.5 234.5,125.5 245.5,110.5 258.5,95.5 271.5,80.5"/>
<polyline points="117.5,365.5 121.5,350.5 124.5,335.5 128.5,320.5 134.5,305.5 143.5,290.5 150.5,275.5 156.5,260.5 163.5,245.5 168.5,230.5 173.5,215.5 176.5,200.5 177.5,185.5 183.5,170.5 191.5,155.5 202.5,140.5 215.5,125.5 227.5,110.5 241.5,95.5 252.5,80.5"/>
<polyline points="119.5,365.5 124.5,350.5 129.5,335.5 134.5,320.5 139.5,305.5 144.5,290.5 152.5,275.5 155.5,260.5 160.5,245.5 167.5,230.5 171.5,215.5 176.5,200.5 182.5,185.5 191.5,170.5 202.5,155.5 216.5,140.5 226.5,125.5 237.5,110.5 246.5,95.5 260.5,80.5"/>
<polyline points="129.5,365.5 134.5,350.5 136.5,335.5 140.5,320.5 144.5,305.5 154.5,290.5 164.5,275.5 170.5,260.5 177.5,245.5 182.5,230.5 189.5,215.5 196.5,200.5 204.5,185.5 210.5,170.5 220.5,155.5 231.5,140.5 245.5,125.5 258.5,110.5 273.5,95.5 288.5,80.5"/>
<polyline points="116.5,365.5 119.5,350.5 124.5,335.5 129.5,320.5 134.5,305.5 140.5,290.5 146.5,275.5 154.5,260.5 157.5,245.5 163.5,230.5 171.5,215.5 175.5,200.5 178.5,185.5 185.5,170.5 194.5,155.5 204.5,140.5 216.5,125.5 224.5,110.5 237.5,95.5 249.5,80.5"/>
<polyline points="118.5,365.5 122.5,350.5 126.5,335.5 128.5,320.5 137.5,305.5 143.5,290.5 147.5,275.5 154.5,260.5 161.5,245.5 166.5,230.5 173.5,215.5 177.5,200.5 186.5,185.5 189.5,170.5 197.5,155.5 209.5,140.5 221.5,125.5 232.5,110.5 244.5,95.5 256.5,80.5"/>
<polyline points="118.5,365.5 123.5,350.5 128.5,335.5 131.5,320.5 137.5,305.5 145.5,290.5 154.5,275.5 158.5,260.5 162.5,245.5 167.5,230.5 170.5,215.5 175.5,200.5 180.5,185.5 190.5,170.5 195.5,155.5 207.5,140.5 216.5,125.5 228.5,110.5 242.5,95.5 256.5,80.5"/>
<polyline points="113.5,365.5 116.5,350.5 120.5,335.5 125.5,320.5 129.5,305.5 137.5,290.5 147.5,275.5 150.5,260.5 157.5,245.5 159.5,230.5 164.5,215.5 168.5,200.5 175.5,185.5 179.5,170.5 185.5,155.5 196.5,140.5 205.5,125.5 219.5,110.5 228.5,95.5 241.5,80.5"/>
<polyline points="124.5,365.5 130.5,350.5 133.5,335.5 136.5,320.5 143.5,305.5 148.5,290.5 153.5,275.5 157.5,260.5 165.5,245.5 175.5,230.5 181.5,215.5 188.5,200.5 199.5,185.5 203.5,170.5 211.5,155.5 220.5,140.5 236.5,125.5 248.5,110.5 258.5,95.5 273.5,80.5"/>
<polyline points="126.5,365.5 130.5,350.5 133.5,335.5 137.5,320.5 146.5,305.5 157.5,290.5 162.5,275.5 170.5,260.5 172.5,245.5 179.5,230.5 185.5,215.5 189.5,200.5 198.5,185.5 205.5,170.5 210.5,155.5 220.5,140.5 234.5,125.5 251.5,110.5 263.5,95.5 279.5,80.5"/>
<polyline points="128.5,365.5 133.5,350.5 142.5,335.5 146.5,320.5 153.5,305.5 160.5,290.5 162.5,275.5 168.5,260.5 175.5,245.5 181.5,230.5 185.5,215.5 194.5,200.5 200.5,185.5 207.5,170.5 214.5,155.5 225.5,140.5 244.5,125.5 258.5,110.5 275.5,95.5 287.5,80.5"/>
<polyline points="114.5,365.5 120.5,350.5 123.5,335.5 125.5,320.5 131.5,305.5 137.5,290.5 144.5,275.5 147.5,260.5 152.5,245.5 161.5,230.5 166.5,215.5 170.5,200.5 174.5,185.5 180.5,170.5 189.5,155.5 201.5,140.5 213.5,125.5 225.5,110.5 233.5,95.5 245.5,80.5"/>
<polyline points="122.5,365.5 128.5,350.5 135.5,335.5 139.5,320.5 141.5,305.5 144.5,290.5 150.5,275.5 158.5,260.5 167.5,245.5 172.5,230.5 179.5,215.5 186.5,200.5 192.5,185.5 200.5,170.5 203.5,155.5 218.5,140.5 233.5,125.5 243.5,110.5 256.5,95.5 268.5,80.5"/>
<polyline points="119.5,365.5 124.5,350.5 130.5,335.5 132.5,320.5 138.5,305.5 143.5,290.5 148.5,275.5 156.5,260.5 160.5,245.5 167.5,230.5 172.5,215.5 177.5,200.5 186.5,185.5 196.5,170.5 201.5,155.5 212.5,140.5 224.5,125.5 232.5,110.5 245.5,95.5 258.5,80.5"/>
<polyline points="119.5,365.5 121.5,350.5 127.5,335.5 131.5,320.5 139.5,305.5 143.5,290.5 151.5,275.5 156.5,260.5 160.5,245.5 164.5,230.5 171.5,215.5 182.5,200.5 189.5,185.5 195.5,170.5 202.5,155.5 213.5,140.5 223.5,125.5 234.5,110.5 248.5,95.5 259.5,80.5"/>
<polyline points="120.5,365.5 125.5,350.5 129.5,335.5 133.5,320.5 139.5,305.5 147.5,290.5 154.5,275.5 161.5,260.5 167.5,245.5 170.5,230.5 174.5,215.5 178.5,200.5 185.5,185.5 193.5,170.5 200.5,155.5 211.5,140.5 226.5,125.5 241.5,110.5 252.5,95.5 263.5,80.5"/>
<polyline points="115.5,365.5 118.5,350.5 119.5,335.5 125.5,320.5 133.5,305.5 137.5,290.5 144.5,275.5 152.5,260.5 157.5,245.5 163.5,230.5 167.5,215.5 173.5,200.5 175.5,185.5 184.5,170.5 194.5,155.5 201.5,140.5 212.5,125.5 224.5,110.5 235.5,95.5 246.5,80.5"/>
<polyline points="119.5,365.5 124.5,350.5 130.5,335.5 134.5,320.5 140.5,305.5 147.5,290.5 153.5,275.5 155.5,260.5 163.5,245.5 167.5,230.5 170.5,215.5 175.5,200.5 179.5,185.5 187.5,170.5 200.5,155.5 211.5,140.5 225.5,125.5 236.5,110.5 249.5,95.5 258.5,80.5"/>
<polyline points="126.5,365.5 130.5,350.5 137.5,335.5 143.5,320.5 151.5,305.5 156.5,290.5 161.5,275.5 165.5,260.5 171.5,245.5 176.5,230.5 181.5,215.5 189.5,200.5 195.5,185.5 203.5,170.5 211.5,155.5 221.5,140.5 236.5,125.5 251.5,110.5 268.5,95.5 279.5,80.5"/>
<polyline points="114.5,365.5 119.5,350.5 125.5,335.5 134.5,320.5 138.5,305.5 142.5,290.5 148.5,275.5 152.5,260.5 156.5,245.5 158.5,230.5 164.5,215.5 171.5,200.5 174.5,185.5 181.5,170.5 184.5,155.5 194.5,140.5 206.5,125.5 217.5,110.5 232.5,95.5 243.5,80.5"/>
<polyline points="122.5,365.5 128.5,350.5 128.5,335.5 131.5,320.5 138.5,305.5 148.5,290.5 153.5,275.5 158.5,260.5 164.5,245.5 171.5,230.5 177.5,215.5 186.5,200.5 192.5,185.5 203.5,170.5 208.5,155.5 216.5,140.5 230.5,125.5 244.5,110.5 256.5,95.5 268.5,80.5"/>
<polyline points="122.5,365.5 129.5,350.5 133.5,335.5 137.5,320.5 140.5,305.5 149.5,290.5 153.5,275.5 160.5,260.5 165.5,245.5 168.5,230.5 177.5,215.5 180.5,200.5 188.5,185.5 196.5,170.5 210.5,155.5 220.5,140.5 233.5,125.5 244.5,110.5 257.5,95.5 269.5,80.5"/>
<polyline points="124.5,365.5 129.5,350.5 134.5,335.5 140.5,320.5 145.5,305.5 149.5,290.5 157.5,275.5 163.5,260.5 170.5,245.5 173.5,230.5 175.5,215.5 182.5,200.5 193.5,185.5 199.5,170.5 211.5,155.5 220.5,140.5 232.5,125.5 247.5,110.5 261.5,95.5 274.5,80.5"/>
<polyline points="122.5,365.5 130.5,350.5 133.5,335.5 138.5,320.5 145.5,305.5 149.5,290.5 151.5,275.5 158.5,260.5 162.5,245.5 168.5,230.5 175.5,215.5 183.5,200.5 193.5,185.5 199.5,170.5 210.5,155.5 219.5,140.5 235.5,125.5 245.5,110.5 256.5,95.5 268.5,80.5"/>
<polyline points="121.5,365.5 127.5,350.5 133.5,335.5 136.5,320.5 141.5,305.5 146.5,290.5 151.5,275.5 157.5,260.5 164.5,245.5 170.5,230.5 174.5,215.5 183.5,200.5 188.5,185.5 198.5,170.5 208.5,155.5 217.5,140.5 232.5,125.5 243.5,110.5 253.5,95.5 266.5,80.5"/>
<polyline points="118.5,365.5 122.5,350.5 128.5,335.5 129.5,320.5 135.5,305.5 142.5,290.5 148.5,275.5 154.5,260.5 158.5,245.5 164.5,230.5 166.5,215.5 174.5,200.5 181.5,185.5 192.5,170.5 200.5,155.5 210.5,140.5 221.5,125.5 231.5,110.5 243.5,95.5 256.5,80.5"/>
<polyline points="129.5,365.5 135.5,350.5 138.5,335.5 145.5,320.5 150.5,305.5 154.5,290.5 161.5,275.5 166.5,260.5 174.5,245.5 180.5,230.5 186.5,215.5 193.5,200.5 203.5,185.5 212.5,170.5 222.5,155.5 236.5,140.5 252.5,125.5 263.5,110.5 277.5,95.5 289.5,80.5"/>
<polyline points="112.5,365.5 118.5,350.5 121.5,335.5 128.5,320.5 133.5,305.5 140.5,290.5 146.5,275.5 149.5,260.5 154.5,245.5 154.5,230.5 159.5,215.5 162.5,200.5 171.5,185.5 179.5,170.5 186.5,155.5 191.5,140.5 202.5,125.5 215.5,110.5 230.5,95.5 239.5,80.5"/>
<polyline points="113.5,365.5 118.5,350.5 119.5,335.5 128.5,320.5 131.5,305.5 137.5,290.5 141.5,275.5 146.5,260.5 153.5,245.5 158.5,230.5 163.5,215.5 171.5,200.5 176.5,185.5 180.5,170.5 185.5,155.5 195.5,140.5 209.5,125.5 221.5,110.5 230.5,95.5 240.5,80.5"/>
<polyline points="121.5,365.5 125.5,350.5 131.5,335.5 135.5,320.5 138.5,305.5 146.5,290.5 151.5,275.5 157.5,260.5 166.5,245.5 172.5,230.5 179.5,215.5 183.5,200.5 192.5,185.5 198.5,170.5 203.5,155.5 211.5,140.5 224.5,125.5 237.5,110.5 251.5,95.5 264.5,80.5"/>
<polyline points="120.5,365.5 125.5,350.5 129.5,335.5 137.5,320.5 142.5,305.5 146.5,290.5 154.5,275.5 158.5,260.5 164.5,245.5 171.5,230.5 177.5,215.5 183.5,200.5 188.5,185.5 191.5,170.5 200.5,155.5 212.5,140.5 226.5,125.5 236.5,110.5 248.5,95.5 262.5,80.5"/>
<polyline points="129.5,365.5 133.5,350.5 137.5,335.5 142.5,320.5 148.5,305.5 160.5,290.5 166.5,275.5 172.5,260.5 178.5,245.5 181.5,230.5 189.5,215.5 196.5,200.5 202.5,185.5 208.5,170.5 216.5,155.5 231.5,140.5 246.5,125.5 260.5,110.5 274.5,95.5 289.5,80.5"/>
<polyline points="117.5,365.5 118.5,350.5 125.5,335.5 129.5,320.5 135.5,305.5 144.5,290.5 150.5,275.5 157.5,260.5 164.5,245.5 167.5,230.5 172.5,215.5 175.5,200.5 179.5,185.5 184.5,170.5 190.5,155.5 204.5,140.5 214.5,125.5 229.5,110.5 240.5,95.5 253.5,80.5"/>
<polyline points="105.5,365.5 118.5,350.5 129.5,335.5 136.5,320.5 141.5,305.5 149.5,290.5 161.5,275.5 173.5,260.5 186.5,245.5 201.5,230.5 210.5,215.5 216.5,200.5 223.5,185.5 232.5,170.5 240.5,155.5 251.5,140.5 263.5,125.5 275.5,110.5 285.5,95.5 296.5,80.5"/>
<polyline points="105.5,365.5 118.5,350.5 129.5,335.5 135.5,320.5 142.5,305.5 152.5,290.5 164.5,275.5 177.5,260.5 190.5,245.5 201.5,230.5 210.5,215.5 215.5,200.5 224.5,185.5 232.5,170.5 241.5,155.5 251.5,140.5 264.5,125.5 275.5,110.5 285.5,95.5 296.5,80.5"/>
<polyline points="112.5,365.5 122.5,350.5 133.5,335.5 144.5,320.5 153.5,305.5 164.5,290.5 179.5,275.5 195.5,260.5 207.5,245.5 220.5,230.5 236.5,215.5 247.5,200.5 251.5,185.5 255.5,170.5 260.5,155.5 267.5,140.5 275.5,125.5 283.5,110.5 291.5,95.5 297.5,80.5"/>
<polyline points="112.5,365.5 124.5,350.5 135.5,335.5 145.5,320.5 151.5,305.5 162.5,290.5 178.5,275.5 193.5,260.5 204.5,245.5 218.5,230.5 233.5,215.5 242.5,200.5 247.5,185.5 250.5,170.5 256.5,155.5 262.5,140.5 271.5,125.5 282.5,110.5 290.5,95.5 299.5,80.5"/>
<polyline points="105.5,365.5 116.5,350.5 127.5,335.5 136.5,320.5 143.5,305.5 153.5,290.5 165.5,275.5 176.5,260.5 181.5,245.5 187.5,230.5 197.5,215.5 207.5,200.5 215.5,185.5 225.5,170.5 238.5,155.5 248.5,140.5 258.5,125.5 272.5,110.5 287.5,95.5 301.5,80.5"/>
<polyline points="105.5,365.5 117.5,350.5 126.5,335.5 133.5,320.5 142.5,305.5 149.5,290.5 162.5,275.5 173.5,260.5 181.5,245.5 187.5,230.5 196.5,215.5 204.5,200.5 214.5,185.5 224.5,170.5 236.5,155.5 248.5,140.5 259.5,125.5 273.5,110.5 289.5,95.5 303.5,80.5"/>
<polyline points="105.5,365.5 117.5,350.5 126.5,335.5 135.5,320.5 142.5,305.5 151.5,290.5 164.5,275.5 176.5,260.5 183.5,245.5 187.5,230.5 195.5,215.5 204.5,200.5 212.5,185.5 224.5,170.5 237.5,155.5 249.5,140.5 262.5,125.5 277.5,110.5 294.5,95.5 308.5,80.5"/>
<polyline points="105.5,365.5 116.5,350.5 125.5,335.5 133.5,320.5 140.5,305.5 149.5,290.5 162.5,275.5 174.5,260.5 181.5,245.5 186.5,230.5 195.5,215.5 204.5,200.5 213.5,185.5 225.5,170.5 237.5,155.5 249.5,140.5 261.5,125.5 277.5,110.5 295.5,95.5 311.5,80.5"/>
<polyline points="105.5,365.5 118.5,350.5 128.5,335.5 136.5,320.5 144.5,305.5 155.5,290.5 172.5,275.5 183.5,260.5 190.5,245.5 197.5,230.5 204.5,215.5 212.5,200.5 223.5,185.5 237.5,170.5 250.5,155.5 260.5,140.5 272.5,125.5 286.5,110.5 301.5,95.5 314.5,80.5"/>
<polyline points="105.5,365.5 117.5,350.5 130.5,335.5 138.5,320.5 145.5,305.5 159.5,290.5 177.5,275.5 189.5,260.5 193.5,245.5 199.5,230.5 206.5,215.5 212.5,200.5 224.5,185.5 239.5,170.5 254.5,155.5 266.5,140.5 277.5,125.5 290.5,110.5 305.5,95.5 318.5,80.5"/>
<polyline points="105.5,365.5 116.5,350.5 128.5,335.5 137.5,320.5 145.5,305.5 158.5,290.5 175.5,275.5 186.5,260.5 193.5,245.5 199.5,230.5 205.5,215.5 212.5,200.5 224.5,185.5 238.5,170.5 251.5,155.5 262.5,140.5 276.5,125.5 292.5,110.5 309.5,95.5 325.5,80.5"/>
<polyline points="105.5,365.5 118.5,350.5 127.5,335.5 137.5,320.5 145.5,305.5 158.5,290.5 176.5,275.5 189.5,260.5 195.5,245.5 201.5,230.5 207.5,215.5 213.5,200.5 225.5,185.5 239.5,170.5 254.5,155.5 266.5,140.5 281.5,125.5 297.5,110.5 315.5,95.5 333.5,80.5"/>
<polyline points="113.5,365.5 126.5,350.5 139.5,335.5 147.5,320.5 155.5,305.5 166.5,290.5 185.5,275.5 205.5,260.5 218.5,245.5 231.5,230.5 241.5,215.5 248.5,200.5 251.5,185.5 260.5,170.5 270.5,155.5 279.5,140.5 292.5,125.5 310.5,110.5 325.5,95.5 340.5,80.5"/>
<polyline points="113.5,365.5 127.5,350.5 139.5,335.5 146.5,320.5 153.5,305.5 164.5,290.5 184.5,275.5 203.5,260.5 217.5,245.5 228.5,230.5 238.5,215.5 245.5,200.5 249.5,185.5 256.5,170.5 267.5,155.5 279.5,140.5 293.5,125.5 310.5,110.5 328.5,95.5 345.5,80.5"/>
<polyline points="113.5,365.5 126.5,350.5 137.5,335.5 146.5,320.5 152.5,305.5 164.5,290.5 185.5,275.5 205.5,260.5 220.5,245.5 231.5,230.5 242.5,215.5 247.5,200.5 250.5,185.5 257.5,170.5 268.5,155.5 279.5,140.5 294.5,125.5 313.5,110.5 332.5,95.5 351.5,80.5"/>
<polyline points="116.5,365.5 131.5,350.5 143.5,335.5 151.5,320.5 159.5,305.5 176.5,290.5 200.5,275.5 221.5,260.5 239.5,245.5 250.5,230.5 256.5,215.5 262.5,200.5 272.5,185.5 282.5,170.5 291.5,155.5 302.5,140.5 314.5,125.5 327.5,110.5 341.5,95.5 355.5,80.5"/>
<polyline points="116.5,365.5 133.5,350.5 146.5,335.5 153.5,320.5 161.5,305.5 177.5,290.5 200.5,275.5 223.5,260.5 242.5,245.5 252.5,230.5 258.5,215.5 266.5,200.5 277.5,185.5 287.5,170.5 295.5,155.5 306.5,140.5 319.5,125.5 330.5,110.5 342.5,95.5 356.5,80.5"/>
<polyline points="116.5,365.5 132.5,350.5 142.5,335.5 150.5,320.5 158.5,305.5 174.5,290.5 197.5,275.5 221.5,260.5 239.5,245.5 249.5,230.5 254.5,215.5 259.5,200.5 271.5,185.5 280.5,170.5 289.5,155.5 300.5,140.5 315.5,125.5 327.5,110.5 342.5,95.5 357.5,80.5"/>
<polyline points="114.5,365.5 125.5,350.5 136.5,335.5 143.5,320.5 153.5,305.5 166.5,290.5 185.5,275.5 206.5,260.5 223.5,245.5 231.5,230.5 234.5,215.5 241.5,200.5 251.5,185.5 259.5,170.5 270.5,155.5 287.5,140.5 306.5,125.5 327.5,110.5 348.5,95.5 370.5,80.5"/>
<polyline points="114.5,365.5 126.5,350.5 136.5,335.5 143.5,320.5 153.5,305.5 165.5,290.5 185.5,275.5 207.5,260.5 222.5,245.5 230.5,230.5 235.5,215.5 241.5,200.5 250.5,185.5 258.5,170.5 269.5,155.5 286.5,140.5 308.5,125.5 331.5,110.5 356.5,95.5 380.5,80.5"/>
<polyline points="114.5,365.5 127.5,350.5 137.5,335.5 148.5,320.5 157.5,305.5 168.5,290.5 188.5,275.5 211.5,260.5 227.5,245.5 240.5,230.5 250.5,215.5 261.5,200.5 276.5,185.5 297.5,170.5 320.5,155.5 339.5,140.5 353.5,125.5 366.5,110.5 378.5,95.5 393.5,80.5"/>
<polyline points="114.5,365.5 126.5,350.5 137.5,335.5 149.5,320.5 159.5,305.5 172.5,290.5 191.5,275.5 212.5,260.5 228.5,245.5 240.5,230.5 251.5,215.5 263.5,200.5 277.5,185.5 298.5,170.5 320.5,155.5 337.5,140.5 352.5,125.5 365.5,110.5 378.5,95.5 393.5,80.5"/>
<polyline points="114.5,365.5 127.5,350.5 139.5,335.5 148.5,320.5 157.5,305.5 167.5,290.5 187.5,275.5 209.5,260.5 225.5,245.5 235.5,230.5 247.5,215.5 258.5,200.5 270.5,185.5 290.5,170.5 314.5,155.5 335.5,140.5 350.5,125.5 366.5,110.5 380.5,95.5 396.5,80.5"/>
<polyline points="120.5,365.5 132.5,350.5 144.5,335.5 153.5,320.5 164.5,305.5 182.5,290.5 209.5,275.5 238.5,260.5 260.5,245.5 275.5,230.5 286.5,215.5 298.5,200.5 314.5,185.5 328.5,170.5 343.5,155.5 357.5,140.5 369.5,125.5 377.5,110.5 386.5,95.5 396.5,80.5"/>
<polyline points="120.5,365.5 133.5,350.5 145.5,335.5 155.5,320.5 167.5,305.5 186.5,290.5 210.5,275.5 236.5,260.5 258.5,245.5 276.5,230.5 287.5,215.5 298.5,200.5 305.5,185.5 310.5,170.5 316.5,155.5 328.5,140.5 347.5,125.5 365.5,110.5 380.5,95.5 397.5,80.5"/>
<polyline points="120.5,365.5 134.5,350.5 146.5,335.5 157.5,320.5 169.5,305.5 186.5,290.5 210.5,275.5 236.5,260.5 259.5,245.5 276.5,230.5 289.5,215.5 300.5,200.5 308.5,185.5 313.5,170.5 320.5,155.5 333.5,140.5 349.5,125.5 365.5,110.5 382.5,95.5 398.5,80.5"/>
<polyline points="117.5,365.5 130.5,350.5 143.5,335.5 152.5,320.5 166.5,305.5 182.5,290.5 208.5,275.5 238.5,260.5 260.5,245.5 276.5,230.5 289.5,215.5 305.5,200.5 322.5,185.5 340.5,170.5 357.5,155.5 371.5,140.5 379.5,125.5 385.5,110.5 391.5,95.5 399.5,80.5"/>
<polyline points="117.5,365.5 130.5,350.5 142.5,335.5 151.5,320.5 164.5,305.5 179.5,290.5 205.5,275.5 235.5,260.5 258.5,245.5 275.5,230.5 287.5,215.5 303.5,200.5 318.5,185.5 335.5,170.5 351.5,155.5 366.5,140.5 376.5,125.5 383.5,110.5 392.5,95.5 401.5,80.5"/>
<polyline points="117.5,365.5 130.5,350.5 141.5,335.5 152.5,320.5 163.5,305.5 181.5,290.5 208.5,275.5 238.5,260.5 262.5,245.5 277.5,230.5 291.5,215.5 307.5,200.5 325.5,185.5 340.5,170.5 359.5,155.5 372.5,140.5 381.5,125.5 387.5,110.5 394.5,95.5 403.5,80.5"/>
<polyline points="125.5,365.5 139.5,350.5 151.5,335.5 161.5,320.5 173.5,305.5 191.5,290.5 217.5,275.5 250.5,260.5 274.5,245.5 291.5,230.5 305.5,215.5 317.5,200.5 328.5,185.5 334.5,170.5 342.5,155.5 354.5,140.5 366.5,125.5 379.5,110.5 392.5,95.5 405.5,80.5"/>
<polyline points="125.5,365.5 137.5,350.5 148.5,335.5 160.5,320.5 171.5,305.5 189.5,290.5 217.5,275.5 250.5,260.5 275.5,245.5 290.5,230.5 304.5,215.5 318.5,200.5 326.5,185.5 331.5,170.5 338.5,155.5 352.5,140.5 368.5,125.5 384.5,110.5 399.5,95.5 414.5,80.5"/>
<polyline points="125.5,365.5 139.5,350.5 150.5,335.5 160.5,320.5 175.5,305.5 196.5,290.5 229.5,275.5 262.5,260.5 288.5,245.5 305.5,230.5 313.5,215.5 322.5,200.5 335.5,185.5 348.5,170.5 360.5,155.5 372.5,140.5 385.5,125.5 393.5,110.5 403.5,95.5 414.5,80.5"/>
<polyline points="125.5,365.5 138.5,350.5 150.5,335.5 161.5,320.5 175.5,305.5 197.5,290.5 231.5,275.5 264.5,260.5 290.5,245.5 305.5,230.5 314.5,215.5 324.5,200.5 336.5,185.5 347.5,170.5 360.5,155.5 374.5,140.5 387.5,125.5 396.5,110.5 405.5,95.5 417.5,80.5"/>
<polyline points="125.5,365.5 138.5,350.5 151.5,335.5 162.5,320.5 176.5,305.5 198.5,290.5 230.5,275.5 265.5,260.5 292.5,245.5 307.5,230.5 316.5,215.5 325.5,200.5 337.5,185.5 349.5,170.5 363.5,155.5 376.5,140.5 389.5,125.5 399.5,110.5 408.5,95.5 419.5,80.5"/>
<polyline points="128.5,365.5 140.5,350.5 153.5,335.5 164.5,320.5 178.5,305.5 202.5,290.5 237.5,275.5 270.5,260.5 291.5,245.5 306.5,230.5 316.5,215.5 325.5,200.5 339.5,185.5 352.5,170.5 364.5,155.5 374.5,140.5 386.5,125.5 398.5,110.5 410.5,95.5 422.5,80.5"/>
<polyline points="128.5,365.5 139.5,350.5 149.5,335.5 159.5,320.5 173.5,305.5 198.5,290.5 234.5,275.5 267.5,260.5 289.5,245.5 304.5,230.5 314.5,215.5 323.5,200.5 335.5,185.5 347.5,170.5 359.5,155.5 370.5,140.5 383.5,125.5 396.5,110.5 410.5,95.5 425.5,80.5"/>
<polyline points="127.5,365.5 138.5,350.5 152.5,335.5 164.5,320.5 175.5,305.5 196.5,290.5 227.5,275.5 258.5,260.5 280.5,245.5 300.5,230.5 314.5,215.5 324.5,200.5 334.5,185.5 347.5,170.5 359.5,155.5 372.5,140.5 387.5,125.5 401.5,110.5 415.5,95.5 428.5,80.5"/>
<polyline points="127.5,365.5 139.5,350.5 153.5,335.5 165.5,320.5 178.5,305.5 199.5,290.5 230.5,275.5 260.5,260.5 281.5,245.5 300.5,230.5 314.5,215.5 325.5,200.5 338.5,185.5 350.5,170.5 360.5,155.5 373.5,140.5 388.5,125.5 403.5,110.5 415.5,95.5 428.5,80.5"/>
<polyline points="127.5,365.5 138.5,350.5 152.5,335.5 163.5,320.5 174.5,305.5 194.5,290.5 226.5,275.5 256.5,260.5 278.5,245.5 296.5,230.5 310.5,215.5 323.5,200.5 336.5,185.5 346.5,170.5 358.5,155.5 371.5,140.5 388.5,125.5 404.5,110.5 420.5,95.5 434.5,80.5"/>
<polyline points="127.5,365.5 139.5,350.5 153.5,335.5 164.5,320.5 176.5,305.5 197.5,290.5 228.5,275.5 259.5,260.5 282.5,245.5 300.5,230.5 315.5,215.5 327.5,200.5 339.5,185.5 351.5,170.5 362.5,155.5 376.5,140.5 393.5,125.5 408.5,110.5 423.5,95.5 438.5,80.5"/>
<polyline points="132.5,365.5 144.5,350.5 157.5,335.5 169.5,320.5 183.5,305.5 208.5,290.5 245.5,275.5 281.5,260.5 305.5,245.5 323.5,230.5 336.5,215.5 343.5,200.5 355.5,185.5 367.5,170.5 379.5,155.5 392.5,140.5 406.5,125.5 421.5,110.5 434.5,95.5 448.5,80.5"/>
<polyline points="132.5,365.5 145.5,350.5 159.5,335.5 170.5,320.5 182.5,305.5 206.5,290.5 245.5,275.5 281.5,260.5 306.5,245.5 325.5,230.5 336.5,215.5 344.5,200.5 353.5,185.5 366.5,170.5 379.5,155.5 392.5,140.5 408.5,125.5 422.5,110.5 437.5,95.5 450.5,80.5"/>
<polyline points="132.5,365.5 144.5,350.5 156.5,335.5 166.5,320.5 179.5,305.5 204.5,290.5 241.5,275.5 278.5,260.5 302.5,245.5 319.5,230.5 331.5,215.5 340.5,200.5 350.5,185.5 361.5,170.5 374.5,155.5 390.5,140.5 407.5,125.5 422.5,110.5 436.5,95.5 452.5,80.5"/>
<polyline points="135.5,365.5 148.5,350.5 160.5,335.5 173.5,320.5 188.5,305.5 213.5,290.5 253.5,275.5 295.5,260.5 325.5,245.5 344.5,230.5 355.5,215.5 367.5,200.5 387.5,185.5 404.5,170.5 419.5,155.5 432.5,140.5 440.5,125.5 445.5,110.5 450.5,95.5 456.5,80.5"/>
<polyline points="135.5,365.5 148.5,350.5 160.5,335.5 171.5,320.5 187.5,305.5 213.5,290.5 253.5,275.5 295.5,260.5 326.5,245.5 343.5,230.5 357.5,215.5 370.5,200.5 389.5,185.5 407.5,170.5 423.5,155.5 434.5,140.5 441.5,125.5 446.5,110.5 451.5,95.5 458.5,80.5"/>
<polyline points="134.5,365.5 150.5,350.5 163.5,335.5 175.5,320.5 188.5,305.5 215.5,290.5 262.5,275.5 307.5,260.5 336.5,245.5 349.5,230.5 355.5,215.5 366.5,200.5 384.5,185.5 404.5,170.5 419.5,155.5 430.5,140.5 439.5,125.5 443.5,110.5 450.5,95.5 458.5,80.5"/>
<polyline points="134.5,365.5 150.5,350.5 164.5,335.5 172.5,320.5 184.5,305.5 211.5,290.5 256.5,275.5 302.5,260.5 329.5,245.5 342.5,230.5 350.5,215.5 361.5,200.5 380.5,185.5 399.5,170.5 416.5,155.5 429.5,140.5 439.5,125.5 446.5,110.5 454.5,95.5 462.5,80.5"/>
<polyline points="134.5,365.5 149.5,350.5 164.5,335.5 173.5,320.5 187.5,305.5 214.5,290.5 260.5,275.5 304.5,260.5 331.5,245.5 346.5,230.5 351.5,215.5 362.5,200.5 379.5,185.5 400.5,170.5 417.5,155.5 428.5,140.5 440.5,125.5 448.5,110.5 457.5,95.5 465.5,80.5"/>
<polyline points="133.5,365.5 146.5,350.5 161.5,335.5 175.5,320.5 192.5,305.5 214.5,290.5 255.5,275.5 302.5,260.5 336.5,245.5 357.5,230.5 377.5,215.5 397.5,200.5 418.5,185.5 438.5,170.5 452.5,155.5 458.5,140.5 461.5,125.5 461.5,110.5 464.5,95.5 466.5,80.5"/>
<polyline points="133.5,365.5 147.5,350.5 163.5,335.5 178.5,320.5 195.5,305.5 219.5,290.5 261.5,275.5 306.5,260.5 340.5,245.5 361.5,230.5 380.5,215.5 399.5,200.5 420.5,185.5 440.5,170.5 457.5,155.5 462.5,140.5 465.5,125.5 468.5,110.5 468.5,95.5 468.5,80.5"/>
<polyline points="133.5,365.5 147.5,350.5 161.5,335.5 175.5,320.5 191.5,305.5 215.5,290.5 258.5,275.5 306.5,260.5 339.5,245.5 361.5,230.5 378.5,215.5 396.5,200.5 415.5,185.5 436.5,170.5 453.5,155.5 461.5,140.5 464.5,125.5 465.5,110.5 468.5,95.5 472.5,80.5"/>
<polyline points="133.5,365.5 146.5,350.5 161.5,335.5 176.5,320.5 192.5,305.5 216.5,290.5 257.5,275.5 302.5,260.5 334.5,245.5 357.5,230.5 376.5,215.5 395.5,200.5 413.5,185.5 432.5,170.5 449.5,155.5 460.5,140.5 467.5,125.5 471.5,110.5 474.5,95.5 477.5,80.5"/>
<polyline points="140.5,365.5 154.5,350.5 169.5,335.5 185.5,320.5 199.5,305.5 226.5,290.5 274.5,275.5 324.5,260.5 353.5,245.5 367.5,230.5 379.5,215.5 393.5,200.5 407.5,185.5 424.5,170.5 441.5,155.5 455.5,140.5 462.5,125.5 468.5,110.5 475.5,95.5 483.5,80.5"/>
<polyline points="140.5,365.5 153.5,350.5 166.5,335.5 180.5,320.5 194.5,305.5 222.5,290.5 271.5,275.5 321.5,260.5 350.5,245.5 365.5,230.5 378.5,215.5 391.5,200.5 404.5,185.5 420.5,170.5 437.5,155.5 449.5,140.5 460.5,125.5 467.5,110.5 476.5,95.5 486.5,80.5"/>
<polyline points="140.5,365.5 154.5,350.5 167.5,335.5 180.5,320.5 197.5,305.5 224.5,290.5 273.5,275.5 323.5,260.5 352.5,245.5 367.5,230.5 378.5,215.5 391.5,200.5 404.5,185.5 419.5,170.5 437.5,155.5 451.5,140.5 461.5,125.5 469.5,110.5 479.5,95.5 488.5,80.5"/>
<polyline points="115.5,365.5 153.5,350.5 190.5,335.5 225.5,320.5 256.5,305.5 282.5,290.5 305.5,275.5 327.5,260.5 349.5,245.5 365.5,230.5 383.5,215.5 402.5,200.5 423.5,185.5 443.5,170.5 458.5,155.5 467.5,140.5 472.5,125.5 477.5,110.5 482.5,95.5 489.5,80.5"/>
<polyline points="115.5,365.5 153.5,350.5 189.5,335.5 225.5,320.5 256.5,305.5 282.5,290.5 306.5,275.5 327.5,260.5 346.5,245.5 361.5,230.5 380.5,215.5 400.5,200.5 420.5,185.5 441.5,170.5 459.5,155.5 469.5,140.5 476.5,125.5 481.5,110.5 486.5,95.5 492.5,80.5"/>
<polyline points="115.5,365.5 153.5,350.5 189.5,335.5 223.5,320.5 254.5,305.5 281.5,290.5 305.5,275.5 327.5,260.5 348.5,245.5 363.5,230.5 381.5,215.5 402.5,200.5 422.5,185.5 441.5,170.5 459.5,155.5 469.5,140.5 475.5,125.5 480.5,110.5 488.5,95.5 495.5,80.5"/>
<polyline points="119.5,365.5 157.5,350.5 195.5,335.5 231.5,320.5 263.5,305.5 288.5,290.5 308.5,275.5 325.5,260.5 345.5,245.5 368.5,230.5 390.5,215.5 408.5,200.5 426.5,185.5 445.5,170.5 460.5,155.5 468.5,140.5 476.5,125.5 485.5,110.5 491.5,95.5 497.5,80.5"/>
<polyline points="119.5,365.5 157.5,350.5 194.5,335.5 229.5,320.5 261.5,305.5 287.5,290.5 309.5,275.5 325.5,260.5 344.5,245.5 367.5,230.5 388.5,215.5 406.5,200.5 425.5,185.5 445.5,170.5 459.5,155.5 468.5,140.5 476.5,125.5 484.5,110.5 491.5,95.5 498.5,80.5"/>
<polyline points="119.5,365.5 158.5,350.5 196.5,335.5 231.5,320.5 263.5,305.5 290.5,290.5 311.5,275.5 328.5,260.5 349.5,245.5 371.5,230.5 393.5,215.5 412.5,200.5 429.5,185.5 448.5,170.5 463.5,155.5 471.5,140.5 479.5,125.5 486.5,110.5 493.5,95.5 500.5,80.5"/>
<polyline points="122.5,365.5 161.5,350.5 199.5,335.5 235.5,320.5 267.5,305.5 291.5,290.5 316.5,275.5 339.5,260.5 359.5,245.5 378.5,230.5 396.5,215.5 413.5,200.5 431.5,185.5 453.5,170.5 472.5,155.5 481.5,140.5 486.5,125.5 492.5,110.5 497.5,95.5 502.5,80.5"/>
<polyline points="122.5,365.5 161.5,350.5 198.5,335.5 233.5,320.5 266.5,305.5 292.5,290.5 316.5,275.5 339.5,260.5 358.5,245.5 375.5,230.5 393.5,215.5 411.5,200.5 429.5,185.5 449.5,170.5 468.5,155.5 478.5,140.5 484.5,125.5 491.5,110.5 496.5,95.5 502.5,80.5"/>
<polyline points="122.5,365.5 160.5,350.5 197.5,335.5 232.5,320.5 262.5,305.5 290.5,290.5 315.5,275.5 339.5,260.5 359.5,245.5 378.5,230.5 396.5,215.5 414.5,200.5 433.5,185.5 451.5,170.5 471.5,155.5 481.5,140.5 485.5,125.5 490.5,110.5 498.5,95.5 504.5,80.5"/>
<polyline points="122.5,365.5 160.5,350.5 196.5,335.5 233.5,320.5 264.5,305.5 289.5,290.5 313.5,275.5 336.5,260.5 356.5,245.5 376.5,230.5 394.5,215.5 412.5,200.5 429.5,185.5 447.5,170.5 466.5,155.5 477.5,140.5 485.5,125.5 492.5,110.5 498.5,95.5 506.5,80.5"/>
<polyline points="122.5,365.5 161.5,350.5 196.5,335.5 231.5,320.5 262.5,305.5 287.5,290.5 312.5,275.5 336.5,260.5 356.5,245.5 373.5,230.5 392.5,215.5 412.5,200.5 429.5,185.5 449.5,170.5 467.5,155.5 479.5,140.5 486.5,125.5 491.5,110.5 501.5,95.5 509.5,80.5"/>
<polyline points="122.5,365.5 161.5,350.5 197.5,335.5 232.5,320.5 263.5,305.5 288.5,290.5 313.5,275.5 336.5,260.5 355.5,245.5 373.5,230.5 393.5,215.5 409.5,200.5 428.5,185.5 446.5,170.5 466.5,155.5 479.5,140.5 487.5,125.5 496.5,110.5 505.5,95.5 515.5,80.5"/>
<polyline points="133.5,365.5 169.5,350.5 207.5,335.5 245.5,320.5 279.5,305.5 307.5,290.5 330.5,275.5 346.5,260.5 363.5,245.5 385.5,230.5 406.5,215.5 425.5,200.5 443.5,185.5 461.5,170.5 477.5,155.5 485.5,140.5 493.5,125.5 502.5,110.5 510.5,95.5 519.5,80.5"/>
<polyline points="133.5,365.5 170.5,350.5 207.5,335.5 247.5,320.5 281.5,305.5 309.5,290.5 331.5,275.5 349.5,260.5 364.5,245.5 384.5,230.5 406.5,215.5 426.5,200.5 444.5,185.5 462.5,170.5 477.5,155.5 487.5,140.5 495.5,125.5 505.5,110.5 514.5,95.5 524.5,80.5"/>
<polyline points="135.5,365.5 174.5,350.5 214.5,335.5 250.5,320.5 284.5,305.5 312.5,290.5 333.5,275.5 349.5,260.5 369.5,245.5 390.5,230.5 410.5,215.5 429.5,200.5 449.5,185.5 465.5,170.5 479.5,155.5 488.5,140.5 499.5,125.5 510.5,110.5 518.5,95.5 525.5,80.5"/>
<polyline points="135.5,365.5 175.5,350.5 212.5,335.5 250.5,320.5 284.5,305.5 312.5,290.5 331.5,275.5 346.5,260.5 366.5,245.5 388.5,230.5 408.5,215.5 428.5,200.5 449.5,185.5 467.5,170.5 480.5,155.5 490.5,140.5 500.5,125.5 509.5,110.5 517.5,95.5 526.5,80.5"/>
<polyline points="140.5,365.5 179.5,350.5 216.5,335.5 254.5,320.5 288.5,305.5 315.5,290.5 338.5,275.5 357.5,260.5 374.5,245.5 392.5,230.5 415.5,215.5 435.5,200.5 453.5,185.5 470.5,170.5 486.5,155.5 496.5,140.5 504.5,125.5 512.5,110.5 520.5,95.5 528.5,80.5"/>
<polyline points="140.5,365.5 179.5,350.5 217.5,335.5 256.5,320.5 291.5,305.5 318.5,290.5 341.5,275.5 360.5,260.5 377.5,245.5 393.5,230.5 414.5,215.5 433.5,200.5 452.5,185.5 471.5,170.5 487.5,155.5 496.5,140.5 503.5,125.5 512.5,110.5 521.5,95.5 529.5,80.5"/>
<polyline points="140.5,365.5 179.5,350.5 219.5,335.5 256.5,320.5 291.5,305.5 315.5,290.5 334.5,275.5 353.5,260.5 377.5,245.5 400.5,230.5 418.5,215.5 436.5,200.5 453.5,185.5 469.5,170.5 482.5,155.5 495.5,140.5 508.5,125.5 516.5,110.5 523.5,95.5 530.5,80.5"/>
<polyline points="138.5,365.5 177.5,350.5 216.5,335.5 253.5,320.5 289.5,305.5 318.5,290.5 340.5,275.5 358.5,260.5 378.5,245.5 399.5,230.5 419.5,215.5 439.5,200.5 460.5,185.5 481.5,170.5 494.5,155.5 503.5,140.5 510.5,125.5 518.5,110.5 524.5,95.5 533.5,80.5"/>
<polyline points="138.5,365.5 178.5,350.5 218.5,335.5 256.5,320.5 292.5,305.5 320.5,290.5 341.5,275.5 359.5,260.5 379.5,245.5 399.5,230.5 418.5,215.5 438.5,200.5 459.5,185.5 480.5,170.5 493.5,155.5 505.5,140.5 514.5,125.5 521.5,110.5 527.5,95.5 536.5,80.5"/>
<polyline points="112.5,365.5 166.5,350.5 222.5,335.5 274.5,320.5 311.5,305.5 336.5,290.5 362.5,275.5 395.5,260.5 426.5,245.5 460.5,230.5 483.5,215.5 502.5,200.5 517.5,185.5 526.5,170.5 537.5,155.5 545.5,140.5 553.5,125.5 559.5,110.5 560.5,95.5 564.5,80.5"/>
<polyline points="112.5,365.5 165.5,350.5 220.5,335.5 269.5,320.5 304.5,305.5 329.5,290.5 357.5,275.5 393.5,260.5 426.5,245.5 455.5,230.5 478.5,215.5 498.5,200.5 514.5,185.5 524.5,170.5 531.5,155.5 541.5,140.5 550.5,125.5 556.5,110.5 559.5,95.5 561.5,80.5"/>
<polyline points="112.5,365.5 166.5,350.5 221.5,335.5 271.5,320.5 306.5,305.5 335.5,290.5 364.5,275.5 398.5,260.5 426.5,245.5 453.5,230.5 474.5,215.5 492.5,200.5 509.5,185.5 522.5,170.5 531.5,155.5 538.5,140.5 543.5,125.5 552.5,110.5 559.5,95.5 561.5,80.5"/>
<polyline points="110.5,365.5 158.5,350.5 209.5,335.5 251.5,320.5 282.5,305.5 307.5,290.5 332.5,275.5 368.5,260.5 404.5,245.5 432.5,230.5 454.5,215.5 472.5,200.5 491.5,185.5 503.5,170.5 510.5,155.5 517.5,140.5 525.5,125.5 532.5,110.5 539.5,95.5 542.5,80.5"/>
<polyline points="111.5,365.5 164.5,350.5 219.5,335.5 266.5,320.5 303.5,305.5 326.5,290.5 350.5,275.5 381.5,260.5 412.5,245.5 441.5,230.5 463.5,215.5 481.5,200.5 502.5,185.5 517.5,170.5 527.5,155.5 536.5,140.5 543.5,125.5 550.5,110.5 551.5,95.5 554.5,80.5"/>
<polyline points="115.5,365.5 178.5,350.5 245.5,335.5 306.5,320.5 347.5,305.5 380.5,290.5 412.5,275.5 445.5,260.5 473.5,245.5 501.5,230.5 519.5,215.5 538.5,200.5 554.5,185.5 565.5,170.5 571.5,155.5 577.5,140.5 583.5,125.5 589.5,110.5 594.5,95.5 597.5,80.5"/>
<polyline points="116.5,365.5 177.5,350.5 248.5,335.5 313.5,320.5 355.5,305.5 387.5,290.5 419.5,275.5 450.5,260.5 479.5,245.5 507.5,230.5 525.5,215.5 543.5,200.5 554.5,185.5 565.5,170.5 575.5,155.5 586.5,140.5 593.5,125.5 599.5,110.5 601.5,95.5 602.5,80.5"/>
<polyline points="116.5,365.5 181.5,350.5 251.5,335.5 315.5,320.5 356.5,305.5 391.5,290.5 423.5,275.5 454.5,260.5 479.5,245.5 505.5,230.5 525.5,215.5 544.5,200.5 556.5,185.5 563.5,170.5 570.5,155.5 578.5,140.5 586.5,125.5 595.5,110.5 599.5,95.5 602.5,80.5"/>
<polyline points="113.5,365.5 170.5,350.5 231.5,335.5 284.5,320.5 321.5,305.5 348.5,290.5 374.5,275.5 405.5,260.5 435.5,245.5 464.5,230.5 486.5,215.5 508.5,200.5 526.5,185.5 537.5,170.5 545.5,155.5 552.5,140.5 557.5,125.5 564.5,110.5 567.5,95.5 571.5,80.5"/>
<polyline points="116.5,365.5 178.5,350.5 249.5,335.5 316.5,320.5 359.5,305.5 393.5,290.5 422.5,275.5 453.5,260.5 479.5,245.5 501.5,230.5 522.5,215.5 543.5,200.5 558.5,185.5 566.5,170.5 572.5,155.5 580.5,140.5 591.5,125.5 601.5,110.5 601.5,95.5 602.5,80.5"/>
<polyline points="113.5,365.5 169.5,350.5 228.5,335.5 281.5,320.5 319.5,305.5 346.5,290.5 374.5,275.5 407.5,260.5 438.5,245.5 465.5,230.5 489.5,215.5 511.5,200.5 528.5,185.5 536.5,170.5 544.5,155.5 550.5,140.5 558.5,125.5 566.5,110.5 568.5,95.5 572.5,80.5"/>
<polyline points="111.5,365.5 165.5,350.5 217.5,335.5 260.5,320.5 294.5,305.5 318.5,290.5 341.5,275.5 377.5,260.5 408.5,245.5 438.5,230.5 460.5,215.5 482.5,200.5 500.5,185.5 511.5,170.5 522.5,155.5 531.5,140.5 540.5,125.5 547.5,110.5 549.5,95.5 551.5,80.5"/>
<polyline points="111.5,365.5 161.5,350.5 214.5,335.5 262.5,320.5 297.5,305.5 319.5,290.5 344.5,275.5 379.5,260.5 412.5,245.5 442.5,230.5 462.5,215.5 480.5,200.5 499.5,185.5 509.5,170.5 516.5,155.5 525.5,140.5 536.5,125.5 544.5,110.5 547.5,95.5 550.5,80.5"/>
<polyline points="115.5,365.5 176.5,350.5 241.5,335.5 301.5,320.5 339.5,305.5 370.5,290.5 399.5,275.5 431.5,260.5 457.5,245.5 485.5,230.5 507.5,215.5 530.5,200.5 545.5,185.5 555.5,170.5 562.5,155.5 569.5,140.5 575.5,125.5 582.5,110.5 584.5,95.5 588.5,80.5"/>
<polyline points="111.5,365.5 165.5,350.5 220.5,335.5 265.5,320.5 298.5,305.5 323.5,290.5 348.5,275.5 383.5,260.5 416.5,245.5 446.5,230.5 465.5,215.5 483.5,200.5 501.5,185.5 515.5,170.5 525.5,155.5 531.5,140.5 540.5,125.5 550.5,110.5 553.5,95.5 555.5,80.5"/>
<polyline points="111.5,365.5 163.5,350.5 217.5,335.5 265.5,320.5 300.5,305.5 324.5,290.5 348.5,275.5 384.5,260.5 419.5,245.5 449.5,230.5 471.5,215.5 490.5,200.5 509.5,185.5 517.5,170.5 525.5,155.5 532.5,140.5 541.5,125.5 547.5,110.5 551.5,95.5 555.5,80.5"/>
<polyline points="108.5,365.5 153.5,350.5 198.5,335.5 238.5,320.5 271.5,305.5 290.5,290.5 308.5,275.5 345.5,260.5 377.5,245.5 407.5,230.5 429.5,215.5 449.5,200.5 474.5,185.5 488.5,170.5 497.5,155.5 505.5,140.5 513.5,125.5 518.5,110.5 523.5,95.5 527.5,80.5"/>
<polyline points="113.5,365.5 169.5,350.5 227.5,335.5 280.5,320.5 316.5,305.5 343.5,290.5 369.5,275.5 402.5,260.5 433.5,245.5 465.5,230.5 488.5,215.5 508.5,200.5 523.5,185.5 534.5,170.5 542.5,155.5 551.5,140.5 559.5,125.5 564.5,110.5 568.5,95.5 570.5,80.5"/>
<polyline points="112.5,365.5 164.5,350.5 218.5,335.5 266.5,320.5 302.5,305.5 329.5,290.5 356.5,275.5 388.5,260.5 418.5,245.5 448.5,230.5 471.5,215.5 490.5,200.5 511.5,185.5 524.5,170.5 533.5,155.5 539.5,140.5 544.5,125.5 551.5,110.5 556.5,95.5 559.5,80.5"/>
<polyline points="115.5,365.5 172.5,350.5 237.5,335.5 297.5,320.5 340.5,305.5 370.5,290.5 399.5,275.5 432.5,260.5 461.5,245.5 489.5,230.5 509.5,215.5 531.5,200.5 545.5,185.5 554.5,170.5 560.5,155.5 565.5,140.5 572.5,125.5 579.5,110.5 584.5,95.5 588.5,80.5"/>
<polyline points="114.5,365.5 172.5,350.5 233.5,335.5 292.5,320.5 329.5,305.5 358.5,290.5 384.5,275.5 418.5,260.5 447.5,245.5 476.5,230.5 496.5,215.5 519.5,200.5 537.5,185.5 546.5,170.5 553.5,155.5 559.5,140.5 565.5,125.5 572.5,110.5 575.5,95.5 580.5,80.5"/>
<polyline points="112.5,365.5 167.5,350.5 224.5,335.5 273.5,320.5 308.5,305.5 334.5,290.5 361.5,275.5 395.5,260.5 425.5,245.5 452.5,230.5 471.5,215.5 490.5,200.5 510.5,185.5 524.5,170.5 533.5,155.5 542.5,140.5 549.5,125.5 557.5,110.5 558.5,95.5 562.5,80.5"/>
<polyline points="109.5,365.5 157.5,350.5 202.5,335.5 241.5,320.5 272.5,305.5 294.5,290.5 315.5,275.5 346.5,260.5 381.5,245.5 415.5,230.5 441.5,215.5 463.5,200.5 485.5,185.5 494.5,170.5 504.5,155.5 510.5,140.5 516.5,125.5 524.5,110.5 527.5,95.5 532.5,80.5"/>
<polyline points="110.5,365.5 161.5,350.5 210.5,335.5 251.5,320.5 284.5,305.5 308.5,290.5 330.5,275.5 366.5,260.5 399.5,245.5 430.5,230.5 452.5,215.5 468.5,200.5 486.5,185.5 500.5,170.5 509.5,155.5 516.5,140.5 524.5,125.5 532.5,110.5 537.5,95.5 541.5,80.5"/>
<polyline points="114.5,365.5 171.5,350.5 235.5,335.5 290.5,320.5 329.5,305.5 359.5,290.5 389.5,275.5 419.5,260.5 446.5,245.5 472.5,230.5 493.5,215.5 514.5,200.5 529.5,185.5 542.5,170.5 551.5,155.5 561.5,140.5 568.5,125.5 572.5,110.5 576.5,95.5 579.5,80.5"/>
<polyline points="114.5,365.5 173.5,350.5 237.5,335.5 293.5,320.5 332.5,305.5 363.5,290.5 391.5,275.5 426.5,260.5 456.5,245.5 485.5,230.5 505.5,215.5 522.5,200.5 538.5,185.5 548.5,170.5 560.5,155.5 568.5,140.5 573.5,125.5 578.5,110.5 580.5,95.5 584.5,80.5"/>
<polyline points="114.5,365.5 172.5,350.5 239.5,335.5 297.5,320.5 336.5,305.5 363.5,290.5 392.5,275.5 425.5,260.5 452.5,245.5 480.5,230.5 501.5,215.5 522.5,200.5 536.5,185.5 547.5,170.5 555.5,155.5 563.5,140.5 571.5,125.5 579.5,110.5 581.5,95.5 583.5,80.5"/>
<polyline points="113.5,365.5 168.5,350.5 229.5,335.5 282.5,320.5 318.5,305.5 347.5,290.5 377.5,275.5 411.5,260.5 440.5,245.5 467.5,230.5 486.5,215.5 505.5,200.5 519.5,185.5 531.5,170.5 540.5,155.5 550.5,140.5 557.5,125.5 567.5,110.5 570.5,95.5 571.5,80.5"/>
<polyline points="114.5,365.5 172.5,350.5 235.5,335.5 296.5,320.5 335.5,305.5 364.5,290.5 393.5,275.5 426.5,260.5 454.5,245.5 479.5,230.5 497.5,215.5 515.5,200.5 531.5,185.5 544.5,170.5 551.5,155.5 559.5,140.5 569.5,125.5 577.5,110.5 580.5,95.5 582.5,80.5"/>
<polyline points="111.5,365.5 165.5,350.5 222.5,335.5 272.5,320.5 304.5,305.5 328.5,290.5 352.5,275.5 387.5,260.5 417.5,245.5 447.5,230.5 470.5,215.5 490.5,200.5 509.5,185.5 518.5,170.5 527.5,155.5 537.5,140.5 547.5,125.5 553.5,110.5 555.5,95.5 557.5,80.5"/>
<polyline points="114.5,365.5 172.5,350.5 235.5,335.5 293.5,320.5 332.5,305.5 366.5,290.5 398.5,275.5 430.5,260.5 457.5,245.5 484.5,230.5 506.5,215.5 528.5,200.5 541.5,185.5 552.5,170.5 557.5,155.5 563.5,140.5 570.5,125.5 575.5,110.5 581.5,95.5 585.5,80.5"/>
<polyline points="113.5,365.5 169.5,350.5 227.5,335.5 277.5,320.5 315.5,305.5 345.5,290.5 374.5,275.5 408.5,260.5 438.5,245.5 466.5,230.5 487.5,215.5 508.5,200.5 526.5,185.5 538.5,170.5 544.5,155.5 548.5,140.5 553.5,125.5 561.5,110.5 568.5,95.5 571.5,80.5"/>
<polyline points="114.5,365.5 172.5,350.5 233.5,335.5 289.5,320.5 328.5,305.5 358.5,290.5 385.5,275.5 419.5,260.5 450.5,245.5 480.5,230.5 502.5,215.5 521.5,200.5 536.5,185.5 547.5,170.5 553.5,155.5 558.5,140.5 564.5,125.5 571.5,110.5 576.5,95.5 580.5,80.5"/>
<polyline points="109.5,365.5 157.5,350.5 205.5,335.5 246.5,320.5 279.5,305.5 303.5,290.5 328.5,275.5 363.5,260.5 397.5,245.5 426.5,230.5 449.5,215.5 466.5,200.5 484.5,185.5 496.5,170.5 506.5,155.5 517.5,140.5 524.5,125.5 533.5,110.5 536.5,95.5 539.5,80.5"/>
<polyline points="110.5,365.5 160.5,350.5 211.5,335.5 255.5,320.5 287.5,305.5 310.5,290.5 333.5,275.5 368.5,260.5 399.5,245.5 429.5,230.5 454.5,215.5 474.5,200.5 496.5,185.5 509.5,170.5 518.5,155.5 526.5,140.5 533.5,125.5 539.5,110.5 543.5,95.5 545.5,80.5"/>
<polyline points="111.5,365.5 161.5,350.5 212.5,335.5 258.5,320.5 295.5,305.5 320.5,290.5 345.5,275.5 381.5,260.5 415.5,245.5 447.5,230.5 468.5,215.5 485.5,200.5 503.5,185.5 516.5,170.5 525.5,155.5 532.5,140.5 539.5,125.5 545.5,110.5 550.5,95.5 553.5,80.5"/>
<polyline points="115.5,365.5 176.5,350.5 242.5,335.5 302.5,320.5 342.5,305.5 377.5,290.5 408.5,275.5 439.5,260.5 466.5,245.5 497.5,230.5 517.5,215.5 539.5,200.5 550.5,185.5 559.5,170.5 567.5,155.5 575.5,140.5 581.5,125.5 586.5,110.5 590.5,95.5 594.5,80.5"/>
<polyline points="114.5,365.5 173.5,350.5 238.5,335.5 300.5,320.5 341.5,305.5 373.5,290.5 403.5,275.5 436.5,260.5 462.5,245.5 488.5,230.5 507.5,215.5 525.5,200.5 538.5,185.5 547.5,170.5 558.5,155.5 565.5,140.5 573.5,125.5 579.5,110.5 583.5,95.5 587.5,80.5"/>
<polyline points="112.5,365.5 163.5,350.5 219.5,335.5 268.5,320.5 305.5,305.5 335.5,290.5 361.5,275.5 394.5,260.5 426.5,245.5 457.5,230.5 477.5,215.5 496.5,200.5 514.5,185.5 526.5,170.5 534.5,155.5 541.5,140.5 547.5,125.5 554.5,110.5 558.5,95.5 562.5,80.5"/>
<polyline points="111.5,365.5 164.5,350.5 219.5,335.5 268.5,320.5 302.5,305.5 327.5,290.5 353.5,275.5 387.5,260.5 418.5,245.5 445.5,230.5 465.5,215.5 485.5,200.5 503.5,185.5 516.5,170.5 526.5,155.5 537.5,140.5 545.5,125.5 550.5,110.5 554.5,95.5 556.5,80.5"/>
<polyline points="114.5,365.5 172.5,350.5 236.5,335.5 297.5,320.5 339.5,305.5 368.5,290.5 398.5,275.5 431.5,260.5 462.5,245.5 490.5,230.5 510.5,215.5 529.5,200.5 542.5,185.5 552.5,170.5 558.5,155.5 566.5,140.5 575.5,125.5 582.5,110.5 583.5,95.5 587.5,80.5"/>
<polyline points="110.5,365.5 159.5,350.5 211.5,335.5 257.5,320.5 292.5,305.5 315.5,290.5 338.5,275.5 374.5,260.5 405.5,245.5 436.5,230.5 456.5,215.5 477.5,200.5 498.5,185.5 510.5,170.5 519.5,155.5 527.5,140.5 533.5,125.5 535.5,110.5 540.5,95.5 546.5,80.5"/>
<polyline points="110.5,365.5 160.5,350.5 210.5,335.5 254.5,320.5 287.5,305.5 308.5,290.5 333.5,275.5 369.5,260.5 402.5,245.5 432.5,230.5 454.5,215.5 472.5,200.5 493.5,185.5 504.5,170.5 512.5,155.5 518.5,140.5 526.5,125.5 534.5,110.5 540.5,95.5 543.5,80.5"/>
<polyline points="112.5,365.5 167.5,350.5 228.5,335.5 279.5,320.5 315.5,305.5 342.5,290.5 369.5,275.5 400.5,260.5 429.5,245.5 459.5,230.5 480.5,215.5 499.5,200.5 514.5,185.5 526.5,170.5 535.5,155.5 542.5,140.5 553.5,125.5 562.5,110.5 565.5,95.5 566.5,80.5"/>
<polyline points="112.5,365.5 165.5,350.5 218.5,335.5 268.5,320.5 305.5,305.5 329.5,290.5 353.5,275.5 389.5,260.5 422.5,245.5 453.5,230.5 475.5,215.5 495.5,200.5 513.5,185.5 523.5,170.5 528.5,155.5 536.5,140.5 544.5,125.5 552.5,110.5 555.5,95.5 559.5,80.5"/>
<polyline points="113.5,365.5 168.5,350.5 228.5,335.5 283.5,320.5 319.5,305.5 345.5,290.5 373.5,275.5 407.5,260.5 436.5,245.5 465.5,230.5 486.5,215.5 508.5,200.5 527.5,185.5 539.5,170.5 546.5,155.5 550.5,140.5 556.5,125.5 563.5,110.5 567.5,95.5 571.5,80.5"/>
<polyline points="113.5,365.5 169.5,350.5 231.5,335.5 284.5,320.5 322.5,305.5 348.5,290.5 374.5,275.5 405.5,260.5 435.5,245.5 464.5,230.5 485.5,215.5 507.5,200.5 526.5,185.5 537.5,170.5 547.5,155.5 553.5,140.5 558.5,125.5 564.5,110.5 566.5,95.5 571.5,80.5"/>
<polyline points="112.5,365.5 168.5,350.5 225.5,335.5 277.5,320.5 314.5,305.5 341.5,290.5 369.5,275.5 403.5,260.5 433.5,245.5 463.5,230.5 486.5,215.5 506.5,200.5 525.5,185.5 532.5,170.5 538.5,155.5 543.5,140.5 550.5,125.5 559.5,110.5 566.5,95.5 568.5,80.5"/>
<polyline points="114.5,365.5 173.5,350.5 239.5,335.5 297.5,320.5 336.5,305.5 368.5,290.5 398.5,275.5 432.5,260.5 461.5,245.5 487.5,230.5 509.5,215.5 529.5,200.5 544.5,185.5 552.5,170.5 556.5,155.5 563.5,140.5 569.5,125.5 578.5,110.5 584.5,95.5 587.5,80.5"/>
<polyline points="113.5,365.5 170.5,350.5 229.5,335.5 280.5,320.5 315.5,305.5 344.5,290.5 373.5,275.5 406.5,260.5 435.5,245.5 464.5,230.5 488.5,215.5 509.5,200.5 527.5,185.5 538.5,170.5 543.5,155.5 549.5,140.5 556.5,125.5 561.5,110.5 565.5,95.5 571.5,80.5"/>
<polyline points="112.5,365.5 166.5,350.5 220.5,335.5 270.5,320.5 305.5,305.5 331.5,290.5 358.5,275.5 391.5,260.5 423.5,245.5 452.5,230.5 474.5,215.5 491.5,200.5 506.5,185.5 517.5,170.5 527.5,155.5 535.5,140.5 542.5,125.5 550.5,110.5 556.5,95.5 559.5,80.5"/>
<polyline points="113.5,365.5 169.5,350.5 228.5,335.5 280.5,320.5 316.5,305.5 345.5,290.5 375.5,275.5 411.5,260.5 440.5,245.5 466.5,230.5 489.5,215.5 509.5,200.5 526.5,185.5 539.5,170.5 547.5,155.5 553.5,140.5 559.5,125.5 562.5,110.5 568.5,95.5 572.5,80.5"/>
<polyline points="112.5,365.5 163.5,350.5 220.5,335.5 269.5,320.5 307.5,305.5 335.5,290.5 363.5,275.5 400.5,260.5 430.5,245.5 459.5,230.5 477.5,215.5 494.5,200.5 510.5,185.5 521.5,170.5 530.5,155.5 536.5,140.5 544.5,125.5 552.5,110.5 559.5,95.5 562.5,80.5"/>
<polyline points="112.5,365.5 167.5,350.5 226.5,335.5 276.5,320.5 310.5,305.5 337.5,290.5 364.5,275.5 398.5,260.5 427.5,245.5 455.5,230.5 477.5,215.5 497.5,200.5 515.5,185.5 526.5,170.5 535.5,155.5 543.5,140.5 550.5,125.5 557.5,110.5 561.5,95.5 564.5,80.5"/>
<polyline points="108.5,365.5 154.5,350.5 197.5,335.5 231.5,320.5 263.5,305.5 285.5,290.5 306.5,275.5 341.5,260.5 376.5,245.5 409.5,230.5 433.5,215.5 454.5,200.5 478.5,185.5 491.5,170.5 496.5,155.5 502.5,140.5 506.5,125.5 514.5,110.5 520.5,95.5 527.5,80.5"/>
<polyline points="116.5,365.5 178.5,350.5 249.5,335.5 311.5,320.5 353.5,305.5 385.5,290.5 418.5,275.5 450.5,260.5 478.5,245.5 505.5,230.5 527.5,215.5 545.5,200.5 557.5,185.5 566.5,170.5 576.5,155.5 584.5,140.5 590.5,125.5 595.5,110.5 598.5,95.5 601.5,80.5"/>
<polyline points="114.5,365.5 171.5,350.5 234.5,335.5 292.5,320.5 333.5,305.5 364.5,290.5 392.5,275.5 425.5,260.5 457.5,245.5 485.5,230.5 503.5,215.5 520.5,200.5 533.5,185.5 543.5,170.5 551.5,155.5 558.5,140.5 568.5,125.5 578.5,110.5 581.5,95.5 583.5,80.5"/>
<polyline points="109.5,365.5 156.5,350.5 204.5,335.5 245.5,320.5 277.5,305.5 302.5,290.5 326.5,275.5 361.5,260.5 393.5,245.5 424.5,230.5 446.5,215.5 464.5,200.5 486.5,185.5 498.5,170.5 506.5,155.5 515.5,140.5 522.5,125.5 527.5,110.5 530.5,95.5 537.5,80.5"/>
<polyline points="108.5,365.5 154.5,350.5 198.5,335.5 234.5,320.5 263.5,305.5 282.5,290.5 303.5,275.5 338.5,260.5 375.5,245.5 408.5,230.5 433.5,215.5 453.5,200.5 477.5,185.5 493.5,170.5 500.5,155.5 505.5,140.5 511.5,125.5 517.5,110.5 521.5,95.5 527.5,80.5"/>
<polyline points="112.5,365.5 166.5,350.5 221.5,335.5 270.5,320.5 306.5,305.5 335.5,290.5 362.5,275.5 398.5,260.5 430.5,245.5 462.5,230.5 480.5,215.5 498.5,200.5 515.5,185.5 528.5,170.5 536.5,155.5 542.5,140.5 549.5,125.5 556.5,110.5 559.5,95.5 564.5,80.5"/>
<polyline points="113.5,365.5 166.5,350.5 223.5,335.5 276.5,320.5 314.5,305.5 344.5,290.5 373.5,275.5 407.5,260.5 435.5,245.5 465.5,230.5 485.5,215.5 505.5,200.5 522.5,185.5 534.5,170.5 544.5,155.5 552.5,140.5 558.5,125.5 562.5,110.5 565.5,95.5 569.5,80.5"/>
<polyline points="113.5,365.5 169.5,350.5 227.5,335.5 279.5,320.5 314.5,305.5 343.5,290.5 373.5,275.5 407.5,260.5 439.5,245.5 468.5,230.5 490.5,215.5 510.5,200.5 525.5,185.5 535.5,170.5 543.5,155.5 549.5,140.5 557.5,125.5 564.5,110.5 568.5,95.5 571.5,80.5"/>
<polyline points="110.5,365.5 158.5,350.5 204.5,335.5 247.5,320.5 281.5,305.5 306.5,290.5 330.5,275.5 367.5,260.5 401.5,245.5 434.5,230.5 454.5,215.5 472.5,200.5 490.5,185.5 502.5,170.5 509.5,155.5 516.5,140.5 524.5,125.5 532.5,110.5 537.5,95.5 542.5,80.5"/>
<polyline points="112.5,365.5 167.5,350.5 224.5,335.5 274.5,320.5 310.5,305.5 337.5,290.5 361.5,275.5 396.5,260.5 428.5,245.5 457.5,230.5 476.5,215.5 494.5,200.5 509.5,185.5 521.5,170.5 530.5,155.5 538.5,140.5 547.5,125.5 556.5,110.5 561.5,95.5 563.5,80.5"/>
<polyline points="112.5,365.5 163.5,350.5 220.5,335.5 268.5,320.5 302.5,305.5 326.5,290.5 354.5,275.5 390.5,260.5 425.5,245.5 455.5,230.5 476.5,215.5 493.5,200.5 509.5,185.5 523.5,170.5 530.5,155.5 537.5,140.5 543.5,125.5 550.5,110.5 553.5,95.5 559.5,80.5"/>
<polyline points="110.5,365.5 158.5,350.5 209.5,335.5 251.5,320.5 284.5,305.5 306.5,290.5 330.5,275.5 367.5,260.5 400.5,245.5 429.5,230.5 450.5,215.5 467.5,200.5 486.5,185.5 500.5,170.5 509.5,155.5 520.5,140.5 527.5,125.5 534.5,110.5 537.5,95.5 541.5,80.5"/>
<polyline points="109.5,365.5 159.5,350.5 207.5,335.5 244.5,320.5 274.5,305.5 292.5,290.5 314.5,275.5 348.5,260.5 383.5,245.5 416.5,230.5 442.5,215.5 461.5,200.5 480.5,185.5 495.5,170.5 505.5,155.5 512.5,140.5 520.5,125.5 528.5,110.5 532.5,95.5 533.5,80.5"/>
<polyline points="116.5,365.5 177.5,350.5 248.5,335.5 315.5,320.5 357.5,305.5 391.5,290.5 424.5,275.5 457.5,260.5 480.5,245.5 503.5,230.5 521.5,215.5 542.5,200.5 556.5,185.5 562.5,170.5 572.5,155.5 579.5,140.5 586.5,125.5 592.5,110.5 599.5,95.5 601.5,80.5"/>
<polyline points="110.5,365.5 161.5,350.5 209.5,335.5 251.5,320.5 282.5,305.5 307.5,290.5 332.5,275.5 366.5,260.5 400.5,245.5 431.5,230.5 455.5,215.5 476.5,200.5 495.5,185.5 505.5,170.5 512.5,155.5 519.5,140.5 526.5,125.5 531.5,110.5 537.5,95.5 542.5,80.5"/>
<polyline points="116.5,365.5 178.5,350.5 248.5,335.5 311.5,320.5 353.5,305.5 389.5,290.5 421.5,275.5 453.5,260.5 477.5,245.5 504.5,230.5 524.5,215.5 539.5,200.5 551.5,185.5 562.5,170.5 568.5,155.5 578.5,140.5 589.5,125.5 598.5,110.5 600.5,95.5 600.5,80.5"/>
<polyline points="108.5,365.5 153.5,350.5 194.5,335.5 231.5,320.5 261.5,305.5 283.5,290.5 305.5,275.5 342.5,260.5 380.5,245.5 411.5,230.5 433.5,215.5 451.5,200.5 474.5,185.5 487.5,170.5 496.5,155.5 503.5,140.5 509.5,125.5 514.5,110.5 520.5,95.5 525.5,80.5"/>
<polyline points="113.5,365.5 168.5,350.5 228.5,335.5 281.5,320.5 318.5,305.5 345.5,290.5 373.5,275.5 407.5,260.5 436.5,245.5 462.5,230.5 482.5,215.5 501.5,200.5 518.5,185.5 531.5,170.5 542.5,155.5 549.5,140.5 556.5,125.5 561.5,110.5 566.5,95.5 570.5,80.5"/>
<polyline points="113.5,365.5 169.5,350.5 233.5,335.5 289.5,320.5 326.5,305.5 353.5,290.5 380.5,275.5 413.5,260.5 441.5,245.5 467.5,230.5 490.5,215.5 511.5,200.5 527.5,185.5 535.5,170.5 543.5,155.5 550.5,140.5 557.5,125.5 564.5,110.5 570.5,95.5 574.5,80.5"/>
<polyline points="115.5,365.5 177.5,350.5 245.5,335.5 308.5,320.5 348.5,305.5 380.5,290.5 411.5,275.5 444.5,260.5 473.5,245.5 501.5,230.5 519.5,215.5 539.5,200.5 552.5,185.5 562.5,170.5 570.5,155.5 578.5,140.5 588.5,125.5 596.5,110.5 597.5,95.5 598.5,80.5"/>
<polyline points="114.5,365.5 171.5,350.5 235.5,335.5 293.5,320.5 334.5,305.5 362.5,290.5 389.5,275.5 422.5,260.5 450.5,245.5 475.5,230.5 493.5,215.5 514.5,200.5 530.5,185.5 543.5,170.5 551.5,155.5 560.5,140.5 568.5,125.5 577.5,110.5 577.5,95.5 580.5,80.5"/>
<polyline points="113.5,365.5 170.5,350.5 231.5,335.5 284.5,320.5 322.5,305.5 349.5,290.5 380.5,275.5 415.5,260.5 446.5,245.5 473.5,230.5 494.5,215.5 515.5,200.5 530.5,185.5 539.5,170.5 548.5,155.5 558.5,140.5 567.5,125.5 572.5,110.5 572.5,95.5 576.5,80.5"/>
<polyline points="112.5,365.5 165.5,350.5 220.5,335.5 272.5,320.5 310.5,305.5 336.5,290.5 360.5,275.5 397.5,260.5 429.5,245.5 457.5,230.5 477.5,215.5 496.5,200.5 513.5,185.5 524.5,170.5 530.5,155.5 537.5,140.5 548.5,125.5 555.5,110.5 559.5,95.5 563.5,80.5"/>
<polyline points="114.5,365.5 171.5,350.5 232.5,335.5 288.5,320.5 326.5,305.5 358.5,290.5 386.5,275.5 420.5,260.5 449.5,245.5 477.5,230.5 498.5,215.5 516.5,200.5 531.5,185.5 541.5,170.5 551.5,155.5 561.5,140.5 569.5,125.5 577.5,110.5 578.5,95.5 580.5,80.5"/>
<polyline points="109.5,365.5 154.5,350.5 201.5,335.5 242.5,320.5 274.5,305.5 294.5,290.5 314.5,275.5 349.5,260.5 383.5,245.5 417.5,230.5 441.5,215.5 459.5,200.5 477.5,185.5 488.5,170.5 495.5,155.5 505.5,140.5 514.5,125.5 523.5,110.5 528.5,95.5 531.5,80.5"/>
<polyline points="114.5,365.5 173.5,350.5 238.5,335.5 293.5,320.5 332.5,305.5 365.5,290.5 395.5,275.5 426.5,260.5 454.5,245.5 481.5,230.5 499.5,215.5 518.5,200.5 535.5,185.5 548.5,170.5 556.5,155.5 561.5,140.5 568.5,125.5 578.5,110.5 581.5,95.5 584.5,80.5"/>
<polyline points="112.5,365.5 165.5,350.5 224.5,335.5 274.5,320.5 308.5,305.5 334.5,290.5 363.5,275.5 399.5,260.5 429.5,245.5 458.5,230.5 478.5,215.5 497.5,200.5 512.5,185.5 521.5,170.5 531.5,155.5 540.5,140.5 548.5,125.5 553.5,110.5 556.5,95.5 562.5,80.5"/>
<polyline points="116.5,365.5 179.5,350.5 251.5,335.5 315.5,320.5 357.5,305.5 392.5,290.5 425.5,275.5 458.5,260.5 482.5,245.5 508.5,230.5 525.5,215.5 543.5,200.5 554.5,185.5 564.5,170.5 575.5,155.5 581.5,140.5 586.5,125.5 593.5,110.5 597.5,95.5 602.5,80.5"/>
<polyline points="115.5,365.5 175.5,350.5 243.5,335.5 306.5,320.5 349.5,305.5 382.5,290.5 413.5,275.5 442.5,260.5 468.5,245.5 495.5,230.5 512.5,215.5 532.5,200.5 545.5,185.5 557.5,170.5 564.5,155.5 571.5,140.5 577.5,125.5 586.5,110.5 590.5,95.5 594.5,80.5"/>
<polyline points="112.5,365.5 167.5,350.5 225.5,335.5 277.5,320.5 313.5,305.5 339.5,290.5 365.5,275.5 398.5,260.5 429.5,245.5 458.5,230.5 480.5,215.5 499.5,200.5 519.5,185.5 532.5,170.5 541.5,155.5 548.5,140.5 553.5,125.5 559.5,110.5 563.5,95.5 566.5,80.5"/>
<polyline points="110.5,365.5 157.5,350.5 208.5,335.5 256.5,320.5 290.5,305.5 314.5,290.5 335.5,275.5 370.5,260.5 403.5,245.5 433.5,230.5 455.5,215.5 474.5,200.5 492.5,185.5 505.5,170.5 512.5,155.5 519.5,140.5 525.5,125.5 534.5,110.5 542.5,95.5 544.5,80.5"/>
<polyline points="115.5,365.5 176.5,350.5 244.5,335.5 305.5,320.5 346.5,305.5 378.5,290.5 409.5,275.5 441.5,260.5 470.5,245.5 499.5,230.5 516.5,215.5 534.5,200.5 546.5,185.5 556.5,170.5 563.5,155.5 572.5,140.5 578.5,125.5 586.5,110.5 588.5,95.5 593.5,80.5"/>
<polyline points="111.5,365.5 162.5,350.5 215.5,335.5 260.5,320.5 295.5,305.5 318.5,290.5 341.5,275.5 376.5,260.5 408.5,245.5 438.5,230.5 461.5,215.5 480.5,200.5 497.5,185.5 511.5,170.5 522.5,155.5 531.5,140.5 538.5,125.5 545.5,110.5 547.5,95.5 550.5,80.5"/>
<polyline points="111.5,365.5 164.5,350.5 217.5,335.5 260.5,320.5 293.5,305.5 316.5,290.5 342.5,275.5 376.5,260.5 409.5,245.5 442.5,230.5 467.5,215.5 486.5,200.5 504.5,185.5 515.5,170.5 523.5,155.5 530.5,140.5 538.5,125.5 542.5,110.5 548.5,95.5 552.5,80.5"/>
<polyline points="108.5,365.5 154.5,350.5 198.5,335.5 234.5,320.5 268.5,305.5 289.5,290.5 311.5,275.5 348.5,260.5 383.5,245.5 416.5,230.5 438.5,215.5 455.5,200.5 475.5,185.5 488.5,170.5 496.5,155.5 502.5,140.5 509.5,125.5 517.5,110.5 524.5,95.5 528.5,80.5"/>
<polyline points="111.5,365.5 161.5,350.5 215.5,335.5 262.5,320.5 298.5,305.5 321.5,290.5 347.5,275.5 381.5,260.5 410.5,245.5 439.5,230.5 459.5,215.5 481.5,200.5 500.5,185.5 512.5,170.5 521.5,155.5 529.5,140.5 536.5,125.5 544.5,110.5 548.5,95.5 551.5,80.5"/>
<polyline points="116.5,365.5 176.5,350.5 243.5,335.5 307.5,320.5 350.5,305.5 385.5,290.5 416.5,275.5 446.5,260.5 473.5,245.5 501.5,230.5 522.5,215.5 543.5,200.5 557.5,185.5 566.5,170.5 573.5,155.5 580.5,140.5 586.5,125.5 593.5,110.5 596.5,95.5 599.5,80.5"/>
<polyline points="114.5,365.5 172.5,350.5 235.5,335.5 289.5,320.5 327.5,305.5 357.5,290.5 387.5,275.5 424.5,260.5 452.5,245.5 480.5,230.5 500.5,215.5 518.5,200.5 534.5,185.5 545.5,170.5 554.5,155.5 563.5,140.5 570.5,125.5 576.5,110.5 579.5,95.5 581.5,80.5"/>
<polyline points="112.5,365.5 167.5,350.5 227.5,335.5 276.5,320.5 309.5,305.5 337.5,290.5 364.5,275.5 398.5,260.5 428.5,245.5 457.5,230.5 479.5,215.5 497.5,200.5 513.5,185.5 524.5,170.5 534.5,155.5 542.5,140.5 551.5,125.5 558.5,110.5 562.5,95.5 565.5,80.5"/>
<polyline points="115.5,365.5 174.5,350.5 241.5,335.5 303.5,320.5 342.5,305.5 375.5,290.5 405.5,275.5 438.5,260.5 467.5,245.5 494.5,230.5 513.5,215.5 537.5,200.5 550.5,185.5 561.5,170.5 565.5,155.5 571.5,140.5 580.5,125.5 587.5,110.5 592.5,95.5 593.5,80.5"/>
<polyline points="108.5,365.5 156.5,350.5 201.5,335.5 235.5,320.5 264.5,305.5 286.5,290.5 306.5,275.5 340.5,260.5 376.5,245.5 407.5,230.5 430.5,215.5 446.5,200.5 468.5,185.5 485.5,170.5 494.5,155.5 503.5,140.5 511.5,125.5 520.5,110.5 522.5,95.5 526.5,80.5"/>
<polyline points="115.5,365.5 173.5,350.5 236.5,335.5 298.5,320.5 341.5,305.5 373.5,290.5 405.5,275.5 437.5,260.5 466.5,245.5 492.5,230.5 511.5,215.5 531.5,200.5 547.5,185.5 556.5,170.5 564.5,155.5 569.5,140.5 576.5,125.5 582.5,110.5 586.5,95.5 591.5,80.5"/>
<polyline points="110.5,365.5 159.5,350.5 211.5,335.5 253.5,320.5 284.5,305.5 309.5,290.5 334.5,275.5 369.5,260.5 400.5,245.5 431.5,230.5 453.5,215.5 470.5,200.5 489.5,185.5 501.5,170.5 510.5,155.5 521.5,140.5 530.5,125.5 537.5,110.5 539.5,95.5 543.5,80.5"/>
<polyline points="115.5,365.5 176.5,350.5 244.5,335.5 304.5,320.5 342.5,305.5 372.5,290.5 401.5,275.5 433.5,260.5 461.5,245.5 488.5,230.5 509.5,215.5 530.5,200.5 542.5,185.5 552.5,170.5 563.5,155.5 572.5,140.5 580.5,125.5 587.5,110.5 587.5,95.5 590.5,80.5"/>
<polyline points="112.5,365.5 164.5,350.5 222.5,335.5 272.5,320.5 306.5,305.5 330.5,290.5 358.5,275.5 393.5,260.5 425.5,245.5 455.5,230.5 476.5,215.5 496.5,200.5 511.5,185.5 520.5,170.5 527.5,155.5 535.5,140.5 543.5,125.5 548.5,110.5 555.5,95.5 559.5,80.5"/>
<polyline points="113.5,365.5 171.5,350.5 233.5,335.5 290.5,320.5 328.5,305.5 356.5,290.5 384.5,275.5 418.5,260.5 446.5,245.5 471.5,230.5 490.5,215.5 511.5,200.5 527.5,185.5 538.5,170.5 548.5,155.5 558.5,140.5 569.5,125.5 574.5,110.5 576.5,95.5 578.5,80.5"/>
<polyline points="114.5,365.5 173.5,350.5 238.5,335.5 295.5,320.5 336.5,305.5 368.5,290.5 398.5,275.5 430.5,260.5 458.5,245.5 484.5,230.5 505.5,215.5 525.5,200.5 541.5,185.5 553.5,170.5 560.5,155.5 569.5,140.5 577.5,125.5 583.5,110.5 583.5,95.5 587.5,80.5"/>
<polyline points="109.5,365.5 156.5,350.5 201.5,335.5 236.5,320.5 265.5,305.5 284.5,290.5 307.5,275.5 347.5,260.5 383.5,245.5 414.5,230.5 437.5,215.5 457.5,200.5 480.5,185.5 494.5,170.5 502.5,155.5 509.5,140.5 517.5,125.5 523.5,110.5 526.5,95.5 530.5,80.5"/>
<polyline points="108.5,365.5 154.5,350.5 199.5,335.5 235.5,320.5 265.5,305.5 284.5,290.5 304.5,275.5 342.5,260.5 378.5,245.5 409.5,230.5 430.5,215.5 449.5,200.5 469.5,185.5 484.5,170.5 494.5,155.5 500.5,140.5 509.5,125.5 517.5,110.5 522.5,95.5 526.5,80.5"/>
<polyline points="109.5,365.5 155.5,350.5 203.5,335.5 241.5,320.5 271.5,305.5 291.5,290.5 313.5,275.5 352.5,260.5 388.5,245.5 419.5,230.5 443.5,215.5 462.5,200.5 483.5,185.5 494.5,170.5 499.5,155.5 506.5,140.5 512.5,125.5 519.5,110.5 527.5,95.5 532.5,80.5"/>
<polyline points="115.5,365.5 174.5,350.5 240.5,335.5 302.5,320.5 343.5,305.5 377.5,290.5 408.5,275.5 442.5,260.5 471.5,245.5 498.5,230.5 515.5,215.5 532.5,200.5 544.5,185.5 556.5,170.5 563.5,155.5 569.5,140.5 578.5,125.5 586.5,110.5 589.5,95.5 592.5,80.5"/>
<polyline points="113.5,365.5 170.5,350.5 231.5,335.5 285.5,320.5 322.5,305.5 352.5,290.5 381.5,275.5 415.5,260.5 444.5,245.5 469.5,230.5 488.5,215.5 505.5,200.5 522.5,185.5 534.5,170.5 544.5,155.5 554.5,140.5 561.5,125.5 570.5,110.5 572.5,95.5 574.5,80.5"/>
<polyline points="110.5,365.5 159.5,350.5 207.5,335.5 250.5,320.5 285.5,305.5 313.5,290.5 337.5,275.5 371.5,260.5 403.5,245.5 433.5,230.5 453.5,215.5 472.5,200.5 491.5,185.5 506.5,170.5 513.5,155.5 521.5,140.5 528.5,125.5 535.5,110.5 540.5,95.5 544.5,80.5"/>
<polyline points="109.5,365.5 161.5,350.5 211.5,335.5 251.5,320.5 284.5,305.5 302.5,290.5 323.5,275.5 357.5,260.5 392.5,245.5 423.5,230.5 448.5,215.5 466.5,200.5 486.5,185.5 498.5,170.5 507.5,155.5 515.5,140.5 522.5,125.5 527.5,110.5 534.5,95.5 539.5,80.5"/>
<polyline points="110.5,365.5 160.5,350.5 211.5,335.5 249.5,320.5 280.5,305.5 302.5,290.5 325.5,275.5 358.5,260.5 392.5,245.5 426.5,230.5 452.5,215.5 471.5,200.5 492.5,185.5 505.5,170.5 513.5,155.5 520.5,140.5 525.5,125.5 531.5,110.5 536.5,95.5 540.5,80.5"/>
<polyline points="112.5,365.5 165.5,350.5 221.5,335.5 272.5,320.5 311.5,305.5 341.5,290.5 369.5,275.5 404.5,260.5 432.5,245.5 460.5,230.5 480.5,215.5 500.5,200.5 515.5,185.5 525.5,170.5 535.5,155.5 542.5,140.5 550.5,125.5 556.5,110.5 560.5,95.5 565.5,80.5"/>
<polyline points="113.5,365.5 167.5,350.5 229.5,335.5 280.5,320.5 314.5,305.5 340.5,290.5 368.5,275.5 404.5,260.5 434.5,245.5 465.5,230.5 488.5,215.5 509.5,200.5 525.5,185.5 533.5,170.5 541.5,155.5 546.5,140.5 554.5,125.5 559.5,110.5 565.5,95.5 569.5,80.5"/>
<polyline points="112.5,365.5 168.5,350.5 226.5,335.5 279.5,320.5 314.5,305.5 339.5,290.5 366.5,275.5 400.5,260.5 430.5,245.5 459.5,230.5 480.5,215.5 502.5,200.5 519.5,185.5 531.5,170.5 537.5,155.5 545.5,140.5 552.5,125.5 561.5,110.5 562.5,95.5 566.5,80.5"/>
<polyline points="109.5,365.5 156.5,350.5 204.5,335.5 243.5,320.5 274.5,305.5 298.5,290.5 321.5,275.5 358.5,260.5 391.5,245.5 422.5,230.5 445.5,215.5 464.5,200.5 484.5,185.5 495.5,170.5 501.5,155.5 509.5,140.5 517.5,125.5 527.5,110.5 532.5,95.5 535.5,80.5"/>
<polyline points="113.5,365.5 169.5,350.5 229.5,335.5 282.5,320.5 320.5,305.5 349.5,290.5 376.5,275.5 408.5,260.5 436.5,245.5 465.5,230.5 484.5,215.5 505.5,200.5 521.5,185.5 533.5,170.5 543.5,155.5 553.5,140.5 561.5,125.5 566.5,110.5 570.5,95.5 572.5,80.5"/>
<polyline points="109.5,365.5 157.5,350.5 205.5,335.5 246.5,320.5 274.5,305.5 293.5,290.5 313.5,275.5 350.5,260.5 386.5,245.5 416.5,230.5 437.5,215.5 454.5,200.5 477.5,185.5 494.5,170.5 503.5,155.5 513.5,140.5 520.5,125.5 525.5,110.5 528.5,95.5 532.5,80.5"/>
<polyline points="111.5,365.5 165.5,350.5 220.5,335.5 266.5,320.5 301.5,305.5 326.5,290.5 350.5,275.5 383.5,260.5 416.5,245.5 448.5,230.5 470.5,215.5 491.5,200.5 510.5,185.5 523.5,170.5 530.5,155.5 537.5,140.5 545.5,125.5 552.5,110.5 555.5,95.5 557.5,80.5"/>
<polyline points="111.5,365.5 163.5,350.5 219.5,335.5 267.5,320.5 300.5,305.5 324.5,290.5 348.5,275.5 381.5,260.5 412.5,245.5 439.5,230.5 462.5,215.5 484.5,200.5 501.5,185.5 512.5,170.5 522.5,155.5 530.5,140.5 538.5,125.5 543.5,110.5 548.5,95.5 553.5,80.5"/>
<polyline points="113.5,365.5 169.5,350.5 233.5,335.5 288.5,320.5 324.5,305.5 353.5,290.5 380.5,275.5 415.5,260.5 444.5,245.5 472.5,230.5 491.5,215.5 510.5,200.5 526.5,185.5 534.5,170.5 541.5,155.5 548.5,140.5 559.5,125.5 569.5,110.5 574.5,95.5 574.5,80.5"/>
<polyline points="115.5,365.5 177.5,350.5 242.5,335.5 304.5,320.5 346.5,305.5 383.5,290.5 414.5,275.5 447.5,260.5 474.5,245.5 499.5,230.5 519.5,215.5 539.5,200.5 554.5,185.5 564.5,170.5 572.5,155.5 576.5,140.5 583.5,125.5 590.5,110.5 594.5,95.5 597.5,80.5"/>
<polyline points="114.5,365.5 174.5,350.5 237.5,335.5 298.5,320.5 339.5,305.5 374.5,290.5 403.5,275.5 435.5,260.5 465.5,245.5 491.5,230.5 506.5,215.5 524.5,200.5 538.5,185.5 549.5,170.5 556.5,155.5 563.5,140.5 573.5,125.5 581.5,110.5 584.5,95.5 587.5,80.5"/>
<polyline points="113.5,365.5 171.5,350.5 233.5,335.5 290.5,320.5 327.5,305.5 356.5,290.5 385.5,275.5 420.5,260.5 450.5,245.5 477.5,230.5 497.5,215.5 512.5,200.5 529.5,185.5 540.5,170.5 548.5,155.5 556.5,140.5 562.5,125.5 569.5,110.5 573.5,95.5 577.5,80.5"/>
<polyline points="110.5,365.5 159.5,350.5 211.5,335.5 255.5,320.5 289.5,305.5 312.5,290.5 332.5,275.5 365.5,260.5 398.5,245.5 429.5,230.5 453.5,215.5 472.5,200.5 490.5,185.5 503.5,170.5 510.5,155.5 516.5,140.5 524.5,125.5 530.5,110.5 536.5,95.5 542.5,80.5"/>
<polyline points="116.5,365.5 177.5,350.5 247.5,335.5 311.5,320.5 354.5,305.5 390.5,290.5 424.5,275.5 456.5,260.5 483.5,245.5 509.5,230.5 528.5,215.5 544.5,200.5 555.5,185.5 562.5,170.5 570.5,155.5 577.5,140.5 586.5,125.5 597.5,110.5 601.5,95.5 602.5,80.5"/>
<polyline points="112.5,365.5 168.5,350.5 228.5,335.5 280.5,320.5 315.5,305.5 343.5,290.5 367.5,275.5 399.5,260.5 426.5,245.5 456.5,230.5 478.5,215.5 499.5,200.5 517.5,185.5 531.5,170.5 541.5,155.5 548.5,140.5 554.5,125.5 559.5,110.5 561.5,95.5 566.5,80.5"/>
<polyline points="112.5,365.5 166.5,350.5 223.5,335.5 275.5,320.5 313.5,305.5 341.5,290.5 368.5,275.5 399.5,260.5 431.5,245.5 463.5,230.5 486.5,215.5 504.5,200.5 521.5,185.5 530.5,170.5 538.5,155.5 544.5,140.5 549.5,125.5 557.5,110.5 563.5,95.5 567.5,80.5"/>
<polyline points="109.5,365.5 156.5,350.5 200.5,335.5 242.5,320.5 274.5,305.5 296.5,290.5 318.5,275.5 353.5,260.5 388.5,245.5 419.5,230.5 440.5,215.5 458.5,200.5 478.5,185.5 493.5,170.5 504.5,155.5 510.5,140.5 517.5,125.5 521.5,110.5 527.5,95.5 532.5,80.5"/>
<polyline points="108.5,365.5 153.5,350.5 196.5,335.5 232.5,320.5 264.5,305.5 287.5,290.5 307.5,275.5 343.5,260.5 379.5,245.5 410.5,230.5 434.5,215.5 451.5,200.5 469.5,185.5 483.5,170.5 493.5,155.5 502.5,140.5 509.5,125.5 515.5,110.5 520.5,95.5 525.5,80.5"/>
<polyline points="109.5,365.5 157.5,350.5 204.5,335.5 242.5,320.5 272.5,305.5 293.5,290.5 313.5,275.5 349.5,260.5 385.5,245.5 418.5,230.5 440.5,215.5 457.5,200.5 477.5,185.5 489.5,170.5 498.5,155.5 505.5,140.5 513.5,125.5 518.5,110.5 526.5,95.5 531.5,80.5"/>
<polyline points="114.5,365.5 174.5,350.5 241.5,335.5 299.5,320.5 334.5,305.5 363.5,290.5 395.5,275.5 430.5,260.5 460.5,245.5 488.5,230.5 509.5,215.5 529.5,200.5 542.5,185.5 551.5,170.5 557.5,155.5 563.5,140.5 572.5,125.5 581.5,110.5 584.5,95.5 587.5,80.5"/>
<polyline points="114.5,365.5 171.5,350.5 234.5,335.5 291.5,320.5 331.5,305.5 360.5,290.5 390.5,275.5 421.5,260.5 451.5,245.5 479.5,230.5 499.5,215.5 518.5,200.5 532.5,185.5 541.5,170.5 550.5,155.5 556.5,140.5 562.5,125.5 569.5,110.5 576.5,95.5 580.5,80.5"/>
<polyline points="112.5,365.5 165.5,350.5 221.5,335.5 269.5,320.5 306.5,305.5 335.5,290.5 364.5,275.5 398.5,260.5 428.5,245.5 458.5,230.5 480.5,215.5 498.5,200.5 514.5,185.5 526.5,170.5 534.5,155.5 543.5,140.5 548.5,125.5 555.5,110.5 559.5,95.5 563.5,80.5"/>
<polyline points="114.5,365.5 170.5,350.5 231.5,335.5 289.5,320.5 331.5,305.5 364.5,290.5 393.5,275.5 425.5,260.5 452.5,245.5 480.5,230.5 499.5,215.5 516.5,200.5 533.5,185.5 543.5,170.5 551.5,155.5 556.5,140.5 565.5,125.5 575.5,110.5 580.5,95.5 581.5,80.5"/>
<polyline points="111.5,365.5 162.5,350.5 214.5,335.5 263.5,320.5 300.5,305.5 326.5,290.5 351.5,275.5 386.5,260.5 415.5,245.5 445.5,230.5 465.5,215.5 482.5,200.5 499.5,185.5 512.5,170.5 522.5,155.5 533.5,140.5 543.5,125.5 549.5,110.5 552.5,95.5 554.5,80.5"/>
<polyline points="114.5,365.5 171.5,350.5 233.5,335.5 294.5,320.5 337.5,305.5 369.5,290.5 398.5,275.5 430.5,260.5 458.5,245.5 487.5,230.5 510.5,215.5 529.5,200.5 540.5,185.5 548.5,170.5 555.5,155.5 562.5,140.5 571.5,125.5 578.5,110.5 583.5,95.5 586.5,80.5"/>
<polyline points="114.5,365.5 173.5,350.5 239.5,335.5 292.5,320.5 331.5,305.5 360.5,290.5 390.5,275.5 424.5,260.5 453.5,245.5 482.5,230.5 503.5,215.5 524.5,200.5 537.5,185.5 547.5,170.5 557.5,155.5 564.5,140.5 572.5,125.5 577.5,110.5 580.5,95.5 583.5,80.5"/>
<polyline points="108.5,365.5 156.5,350.5 202.5,335.5 239.5,320.5 268.5,305.5 285.5,290.5 304.5,275.5 340.5,260.5 377.5,245.5 410.5,230.5 434.5,215.5 455.5,200.5 475.5,185.5 492.5,170.5 501.5,155.5 506.5,140.5 512.5,125.5 516.5,110.5 522.5,95.5 528.5,80.5"/>
<polyline points="111.5,365.5 162.5,350.5 218.5,335.5 265.5,320.5 299.5,305.5 322.5,290.5 347.5,275.5 382.5,260.5 414.5,245.5 442.5,230.5 464.5,215.5 484.5,200.5 501.5,185.5 511.5,170.5 519.5,155.5 526.5,140.5 537.5,125.5 545.5,110.5 550.5,95.5 552.5,80.5"/>
<polyline points="114.5,365.5 173.5,350.5 237.5,335.5 295.5,320.5 337.5,305.5 369.5,290.5 399.5,275.5 428.5,260.5 453.5,245.5 479.5,230.5 500.5,215.5 523.5,200.5 538.5,185.5 549.5,170.5 557.5,155.5 566.5,140.5 573.5,125.5 580.5,110.5 582.5,95.5 585.5,80.5"/>
<polyline points="114.5,365.5 170.5,350.5 230.5,335.5 289.5,320.5 327.5,305.5 356.5,290.5 385.5,275.5 419.5,260.5 449.5,245.5 478.5,230.5 496.5,215.5 516.5,200.5 533.5,185.5 544.5,170.5 552.5,155.5 557.5,140.5 563.5,125.5 569.5,110.5 573.5,95.5 579.5,80.5"/>
<polyline points="112.5,365.5 165.5,350.5 222.5,335.5 274.5,320.5 310.5,305.5 341.5,290.5 369.5,275.5 403.5,260.5 434.5,245.5 462.5,230.5 483.5,215.5 503.5,200.5 521.5,185.5 532.5,170.5 536.5,155.5 541.5,140.5 547.5,125.5 556.5,110.5 562.5,95.5 567.5,80.5"/>
<polyline points="108.5,365.5 156.5,350.5 201.5,335.5 237.5,320.5 267.5,305.5 286.5,290.5 306.5,275.5 341.5,260.5 377.5,245.5 409.5,230.5 433.5,215.5 452.5,200.5 471.5,185.5 484.5,170.5 495.5,155.5 503.5,140.5 514.5,125.5 522.5,110.5 524.5,95.5 527.5,80.5"/>
<polyline points="115.5,365.5 176.5,350.5 247.5,335.5 307.5,320.5 346.5,305.5 377.5,290.5 408.5,275.5 439.5,260.5 467.5,245.5 493.5,230.5 515.5,215.5 538.5,200.5 551.5,185.5 558.5,170.5 565.5,155.5 574.5,140.5 583.5,125.5 591.5,110.5 591.5,95.5 594.5,80.5"/>
<polyline points="116.5,365.5 179.5,350.5 252.5,335.5 313.5,320.5 354.5,305.5 387.5,290.5 421.5,275.5 453.5,260.5 477.5,245.5 503.5,230.5 522.5,215.5 540.5,200.5 550.5,185.5 560.5,170.5 571.5,155.5 579.5,140.5 587.5,125.5 593.5,110.5 597.5,95.5 600.5,80.5"/>
<polyline points="109.5,365.5 156.5,350.5 203.5,335.5 242.5,320.5 274.5,305.5 296.5,290.5 319.5,275.5 356.5,260.5 389.5,245.5 418.5,230.5 439.5,215.5 457.5,200.5 478.5,185.5 493.5,170.5 501.5,155.5 511.5,140.5 519.5,125.5 525.5,110.5 529.5,95.5 533.5,80.5"/>
<polyline points="113.5,365.5 170.5,350.5 233.5,335.5 287.5,320.5 324.5,305.5 351.5,290.5 377.5,275.5 411.5,260.5 440.5,245.5 468.5,230.5 490.5,215.5 513.5,200.5 528.5,185.5 538.5,170.5 546.5,155.5 555.5,140.5 563.5,125.5 570.5,110.5 573.5,95.5 575.5,80.5"/>
<polyline points="112.5,365.5 164.5,350.5 219.5,335.5 268.5,320.5 303.5,305.5 331.5,290.5 356.5,275.5 389.5,260.5 422.5,245.5 454.5,230.5 475.5,215.5 495.5,200.5 513.5,185.5 526.5,170.5 534.5,155.5 539.5,140.5 545.5,125.5 550.5,110.5 554.5,95.5 560.5,80.5"/>
<polyline points="114.5,365.5 172.5,350.5 233.5,335.5 290.5,320.5 327.5,305.5 357.5,290.5 385.5,275.5 417.5,260.5 447.5,245.5 476.5,230.5 497.5,215.5 515.5,200.5 530.5,185.5 540.5,170.5 549.5,155.5 558.5,140.5 568.5,125.5 577.5,110.5 577.5,95.5 580.5,80.5"/>
<polyline points="112.5,365.5 165.5,350.5 219.5,335.5 267.5,320.5 304.5,305.5 334.5,290.5 361.5,275.5 392.5,260.5 422.5,245.5 450.5,230.5 474.5,215.5 496.5,200.5 515.5,185.5 526.5,170.5 535.5,155.5 543.5,140.5 549.5,125.5 555.5,110.5 559.5,95.5 562.5,80.5"/>
<polyline points="113.5,365.5 172.5,350.5 236.5,335.5 289.5,320.5 327.5,305.5 356.5,290.5 386.5,275.5 419.5,260.5 448.5,245.5 474.5,230.5 495.5,215.5 514.5,200.5 526.5,185.5 537.5,170.5 547.5,155.5 556.5,140.5 561.5,125.5 568.5,110.5 572.5,95.5 577.5,80.5"/>
<polyline points="112.5,365.5 166.5,350.5 224.5,335.5 277.5,320.5 312.5,305.5 339.5,290.5 369.5,275.5 405.5,260.5 435.5,245.5 463.5,230.5 483.5,215.5 501.5,200.5 518.5,185.5 527.5,170.5 537.5,155.5 545.5,140.5 553.5,125.5 557.5,110.5 561.5,95.5 566.5,80.5"/>
<polyline points="132.5,365.5 198.5,350.5 271.5,335.5 340.5,320.5 379.5,305.5 408.5,290.5 438.5,275.5 466.5,260.5 490.5,245.5 513.5,230.5 531.5,215.5 549.5,200.5 560.5,185.5 569.5,170.5 575.5,155.5 581.5,140.5 589.5,125.5 595.5,110.5 598.5,95.5 600.5,80.5"/>
<polyline points="133.5,365.5 200.5,350.5 274.5,335.5 342.5,320.5 380.5,305.5 411.5,290.5 442.5,275.5 471.5,260.5 496.5,245.5 516.5,230.5 530.5,215.5 545.5,200.5 555.5,185.5 563.5,170.5 572.5,155.5 580.5,140.5 589.5,125.5 596.5,110.5 597.5,95.5 600.5,80.5"/>
<polyline points="117.5,365.5 180.5,350.5 252.5,335.5 316.5,320.5 358.5,305.5 392.5,290.5 425.5,275.5 457.5,260.5 483.5,245.5 509.5,230.5 527.5,215.5 546.5,200.5 555.5,185.5 563.5,170.5 571.5,155.5 578.5,140.5 586.5,125.5 595.5,110.5 599.5,95.5 602.5,80.5"/>
<polyline points="118.5,365.5 181.5,350.5 251.5,335.5 315.5,320.5 360.5,305.5 394.5,290.5 425.5,275.5 455.5,260.5 478.5,245.5 504.5,230.5 525.5,215.5 545.5,200.5 557.5,185.5 567.5,170.5 578.5,155.5 585.5,140.5 592.5,125.5 597.5,110.5 599.5,95.5 602.5,80.5"/>
<polyline points="146.5,365.5 217.5,350.5 293.5,335.5 364.5,320.5 401.5,305.5 426.5,290.5 452.5,275.5 477.5,260.5 501.5,245.5 521.5,230.5 536.5,215.5 551.5,200.5 562.5,185.5 568.5,170.5 573.5,155.5 581.5,140.5 588.5,125.5 593.5,110.5 595.5,95.5 598.5,80.5"/>
<polyline points="136.5,365.5 205.5,350.5 281.5,335.5 348.5,320.5 385.5,305.5 417.5,290.5 447.5,275.5 475.5,260.5 493.5,245.5 513.5,230.5 528.5,215.5 544.5,200.5 555.5,185.5 564.5,170.5 573.5,155.5 580.5,140.5 585.5,125.5 591.5,110.5 598.5,95.5 600.5,80.5"/>
<polyline points="121.5,365.5 186.5,350.5 256.5,335.5 320.5,320.5 362.5,305.5 397.5,290.5 430.5,275.5 459.5,260.5 481.5,245.5 503.5,230.5 523.5,215.5 545.5,200.5 558.5,185.5 567.5,170.5 576.5,155.5 581.5,140.5 590.5,125.5 599.5,110.5 600.5,95.5 602.5,80.5"/>
<polyline points="134.5,365.5 201.5,350.5 276.5,335.5 345.5,320.5 385.5,305.5 414.5,290.5 444.5,275.5 473.5,260.5 498.5,245.5 518.5,230.5 532.5,215.5 545.5,200.5 556.5,185.5 565.5,170.5 574.5,155.5 579.5,140.5 586.5,125.5 591.5,110.5 596.5,95.5 600.5,80.5"/>
<polyline points="140.5,365.5 210.5,350.5 286.5,335.5 359.5,320.5 396.5,305.5 425.5,290.5 451.5,275.5 476.5,260.5 498.5,245.5 517.5,230.5 531.5,215.5 546.5,200.5 557.5,185.5 565.5,170.5 573.5,155.5 579.5,140.5 584.5,125.5 590.5,110.5 596.5,95.5 599.5,80.5"/>
<polyline points="118.5,365.5 180.5,350.5 251.5,335.5 320.5,320.5 362.5,305.5 396.5,290.5 427.5,275.5 457.5,260.5 482.5,245.5 509.5,230.5 529.5,215.5 546.5,200.5 555.5,185.5 561.5,170.5 569.5,155.5 578.5,140.5 590.5,125.5 596.5,110.5 600.5,95.5 602.5,80.5"/>
<polyline points="137.5,365.5 204.5,350.5 276.5,335.5 346.5,320.5 384.5,305.5 415.5,290.5 446.5,275.5 473.5,260.5 497.5,245.5 518.5,230.5 534.5,215.5 548.5,200.5 560.5,185.5 569.5,170.5 575.5,155.5 579.5,140.5 584.5,125.5 590.5,110.5 595.5,95.5 599.5,80.5"/>
<polyline points="131.5,365.5 197.5,350.5 268.5,335.5 337.5,320.5 377.5,305.5 411.5,290.5 440.5,275.5 467.5,260.5 490.5,245.5 513.5,230.5 532.5,215.5 548.5,200.5 561.5,185.5 570.5,170.5 576.5,155.5 578.5,140.5 585.5,125.5 592.5,110.5 598.5,95.5 600.5,80.5"/>
<polyline points="124.5,365.5 187.5,350.5 259.5,335.5 326.5,320.5 365.5,305.5 402.5,290.5 435.5,275.5 466.5,260.5 489.5,245.5 512.5,230.5 530.5,215.5 544.5,200.5 554.5,185.5 563.5,170.5 573.5,155.5 580.5,140.5 587.5,125.5 595.5,110.5 598.5,95.5 601.5,80.5"/>
<polyline points="142.5,365.5 212.5,350.5 290.5,335.5 362.5,320.5 397.5,305.5 424.5,290.5 449.5,275.5 474.5,260.5 495.5,245.5 515.5,230.5 532.5,215.5 548.5,200.5 559.5,185.5 568.5,170.5 574.5,155.5 582.5,140.5 590.5,125.5 594.5,110.5 595.5,95.5 599.5,80.5"/>
<polyline points="138.5,365.5 205.5,350.5 280.5,335.5 348.5,320.5 387.5,305.5 416.5,290.5 444.5,275.5 471.5,260.5 493.5,245.5 514.5,230.5 531.5,215.5 548.5,200.5 559.5,185.5 568.5,170.5 576.5,155.5 582.5,140.5 587.5,125.5 595.5,110.5 599.5,95.5 599.5,80.5"/>
<polyline points="146.5,365.5 218.5,350.5 295.5,335.5 366.5,320.5 401.5,305.5 429.5,290.5 456.5,275.5 479.5,260.5 498.5,245.5 514.5,230.5 530.5,215.5 547.5,200.5 558.5,185.5 567.5,170.5 575.5,155.5 580.5,140.5 587.5,125.5 593.5,110.5 595.5,95.5 598.5,80.5"/>
<polyline points="144.5,365.5 213.5,350.5 289.5,335.5 362.5,320.5 396.5,305.5 422.5,290.5 450.5,275.5 476.5,260.5 498.5,245.5 519.5,230.5 534.5,215.5 551.5,200.5 563.5,185.5 567.5,170.5 574.5,155.5 579.5,140.5 585.5,125.5 590.5,110.5 594.5,95.5 598.5,80.5"/>
<polyline points="131.5,365.5 197.5,350.5 271.5,335.5 340.5,320.5 378.5,305.5 406.5,290.5 436.5,275.5 467.5,260.5 492.5,245.5 515.5,230.5 531.5,215.5 549.5,200.5 561.5,185.5 566.5,170.5 574.5,155.5 581.5,140.5 589.5,125.5 592.5,110.5 596.5,95.5 600.5,80.5"/>
<polyline points="150.5,365.5 223.5,350.5 301.5,335.5 376.5,320.5 411.5,305.5 437.5,290.5 461.5,275.5 485.5,260.5 505.5,245.5 520.5,230.5 533.5,215.5 546.5,200.5 558.5,185.5 567.5,170.5 571.5,155.5 577.5,140.5 581.5,125.5 589.5,110.5 593.5,95.5 597.5,80.5"/>
<polyline points="157.5,365.5 231.5,350.5 309.5,335.5 382.5,320.5 415.5,305.5 441.5,290.5 467.5,275.5 492.5,260.5 512.5,245.5 526.5,230.5 540.5,215.5 551.5,200.5 558.5,185.5 563.5,170.5 570.5,155.5 577.5,140.5 581.5,125.5 587.5,110.5 592.5,95.5 597.5,80.5"/>
<polyline points="147.5,365.5 219.5,350.5 297.5,335.5 368.5,320.5 405.5,305.5 433.5,290.5 458.5,275.5 481.5,260.5 499.5,245.5 517.5,230.5 533.5,215.5 547.5,200.5 556.5,185.5 563.5,170.5 571.5,155.5 577.5,140.5 583.5,125.5 589.5,110.5 593.5,95.5 598.5,80.5"/>
<polyline points="143.5,365.5 214.5,350.5 290.5,335.5 358.5,320.5 392.5,305.5 422.5,290.5 450.5,275.5 476.5,260.5 497.5,245.5 515.5,230.5 530.5,215.5 546.5,200.5 555.5,185.5 565.5,170.5 577.5,155.5 583.5,140.5 588.5,125.5 592.5,110.5 596.5,95.5 599.5,80.5"/>
<polyline points="150.5,365.5 223.5,350.5 304.5,335.5 379.5,320.5 410.5,305.5 435.5,290.5 459.5,275.5 482.5,260.5 500.5,245.5 518.5,230.5 533.5,215.5 547.5,200.5 559.5,185.5 567.5,170.5 574.5,155.5 580.5,140.5 585.5,125.5 591.5,110.5 595.5,95.5 597.5,80.5"/>
<polyline points="124.5,365.5 186.5,350.5 259.5,335.5 327.5,320.5 368.5,305.5 401.5,290.5 431.5,275.5 461.5,260.5 486.5,245.5 513.5,230.5 531.5,215.5 550.5,200.5 560.5,185.5 567.5,170.5 575.5,155.5 582.5,140.5 587.5,125.5 594.5,110.5 598.5,95.5 601.5,80.5"/>
<polyline points="123.5,365.5 184.5,350.5 256.5,335.5 324.5,320.5 365.5,305.5 399.5,290.5 432.5,275.5 463.5,260.5 485.5,245.5 509.5,230.5 529.5,215.5 549.5,200.5 560.5,185.5 566.5,170.5 574.5,155.5 579.5,140.5 584.5,125.5 592.5,110.5 598.5,95.5 602.5,80.5"/>
<polyline points="150.5,365.5 223.5,350.5 304.5,335.5 376.5,320.5 406.5,305.5 433.5,290.5 458.5,275.5 483.5,260.5 504.5,245.5 520.5,230.5 532.5,215.5 546.5,200.5 554.5,185.5 562.5,170.5 571.5,155.5 579.5,140.5 586.5,125.5 590.5,110.5 594.5,95.5 597.5,80.5"/>
<polyline points="129.5,365.5 192.5,350.5 264.5,335.5 333.5,320.5 375.5,305.5 409.5,290.5 441.5,275.5 468.5,260.5 492.5,245.5 513.5,230.5 528.5,215.5 543.5,200.5 555.5,185.5 563.5,170.5 571.5,155.5 580.5,140.5 590.5,125.5 597.5,110.5 598.5,95.5 601.5,80.5"/>
<polyline points="158.5,365.5 236.5,350.5 315.5,335.5 390.5,320.5 422.5,305.5 444.5,290.5 468.5,275.5 489.5,260.5 507.5,245.5 524.5,230.5 536.5,215.5 545.5,200.5 555.5,185.5 565.5,170.5 575.5,155.5 580.5,140.5 585.5,125.5 591.5,110.5 593.5,95.5 596.5,80.5"/>
<polyline points="155.5,365.5 229.5,350.5 305.5,335.5 379.5,320.5 416.5,305.5 441.5,290.5 465.5,275.5 491.5,260.5 511.5,245.5 526.5,230.5 537.5,215.5 549.5,200.5 560.5,185.5 567.5,170.5 573.5,155.5 581.5,140.5 587.5,125.5 591.5,110.5 594.5,95.5 597.5,80.5"/>
<polyline points="132.5,365.5 200.5,350.5 275.5,335.5 345.5,320.5 383.5,305.5 414.5,290.5 442.5,275.5 470.5,260.5 494.5,245.5 517.5,230.5 533.5,215.5 550.5,200.5 558.5,185.5 565.5,170.5 570.5,155.5 578.5,140.5 586.5,125.5 594.5,110.5 598.5,95.5 600.5,80.5"/>
<polyline points="131.5,365.5 199.5,350.5 271.5,335.5 339.5,320.5 379.5,305.5 413.5,290.5 443.5,275.5 471.5,260.5 494.5,245.5 514.5,230.5 531.5,215.5 547.5,200.5 556.5,185.5 565.5,170.5 573.5,155.5 581.5,140.5 586.5,125.5 591.5,110.5 595.5,95.5 600.5,80.5"/>
<polyline points="128.5,365.5 195.5,350.5 266.5,335.5 334.5,320.5 373.5,305.5 404.5,290.5 434.5,275.5 464.5,260.5 490.5,245.5 512.5,230.5 529.5,215.5 545.5,200.5 559.5,185.5 569.5,170.5 575.5,155.5 582.5,140.5 587.5,125.5 593.5,110.5 597.5,95.5 601.5,80.5"/>
<polyline points="151.5,365.5 222.5,350.5 298.5,335.5 373.5,320.5 405.5,305.5 432.5,290.5 460.5,275.5 484.5,260.5 507.5,245.5 525.5,230.5 537.5,215.5 549.5,200.5 560.5,185.5 568.5,170.5 576.5,155.5 581.5,140.5 585.5,125.5 589.5,110.5 593.5,95.5 597.5,80.5"/>
<polyline points="155.5,365.5 230.5,350.5 311.5,335.5 384.5,320.5 415.5,305.5 440.5,290.5 465.5,275.5 487.5,260.5 507.5,245.5 523.5,230.5 535.5,215.5 546.5,200.5 555.5,185.5 564.5,170.5 573.5,155.5 581.5,140.5 586.5,125.5 593.5,110.5 595.5,95.5 597.5,80.5"/>
<polyline points="142.5,365.5 209.5,350.5 284.5,335.5 357.5,320.5 394.5,305.5 424.5,290.5 453.5,275.5 479.5,260.5 500.5,245.5 518.5,230.5 534.5,215.5 548.5,200.5 558.5,185.5 566.5,170.5 573.5,155.5 579.5,140.5 583.5,125.5 587.5,110.5 594.5,95.5 599.5,80.5"/>
<polyline points="161.5,365.5 234.5,350.5 313.5,335.5 390.5,320.5 423.5,305.5 448.5,290.5 470.5,275.5 490.5,260.5 508.5,245.5 525.5,230.5 539.5,215.5 552.5,200.5 563.5,185.5 570.5,170.5 575.5,155.5 578.5,140.5 583.5,125.5 587.5,110.5 591.5,95.5 596.5,80.5"/>
<polyline points="163.5,365.5 237.5,350.5 320.5,335.5 394.5,320.5 432.5,305.5 460.5,290.5 482.5,275.5 500.5,260.5 515.5,245.5 528.5,230.5 541.5,215.5 551.5,200.5 559.5,185.5 567.5,170.5 574.5,155.5 579.5,140.5 582.5,125.5 584.5,110.5 592.5,95.5 598.5,80.5"/>
<polyline points="170.5,365.5 247.5,350.5 333.5,335.5 403.5,320.5 449.5,305.5 479.5,290.5 497.5,275.5 510.5,260.5 521.5,245.5 530.5,230.5 539.5,215.5 550.5,200.5 561.5,185.5 571.5,170.5 578.5,155.5 582.5,140.5 587.5,125.5 592.5,110.5 597.5,95.5 601.5,80.5"/>
<polyline points="165.5,365.5 241.5,350.5 323.5,335.5 395.5,320.5 436.5,305.5 462.5,290.5 481.5,275.5 500.5,260.5 516.5,245.5 530.5,230.5 542.5,215.5 555.5,200.5 566.5,185.5 571.5,170.5 576.5,155.5 583.5,140.5 587.5,125.5 590.5,110.5 594.5,95.5 599.5,80.5"/>
<polyline points="163.5,365.5 237.5,350.5 320.5,335.5 394.5,320.5 429.5,305.5 454.5,290.5 476.5,275.5 494.5,260.5 509.5,245.5 523.5,230.5 539.5,215.5 553.5,200.5 562.5,185.5 570.5,170.5 576.5,155.5 582.5,140.5 587.5,125.5 591.5,110.5 593.5,95.5 598.5,80.5"/>
<polyline points="174.5,365.5 249.5,350.5 339.5,335.5 407.5,320.5 460.5,305.5 491.5,290.5 504.5,275.5 513.5,260.5 523.5,245.5 533.5,230.5 545.5,215.5 554.5,200.5 564.5,185.5 572.5,170.5 580.5,155.5 585.5,140.5 590.5,125.5 596.5,110.5 601.5,95.5 604.5,80.5"/>
<polyline points="226.5,365.5 300.5,360.5 360.5,355.5 420.5,349.5 480.5,338.5 551.5,320.5 567.5,300.5 586.5,281.5 594.5,248.5 599.5,224.5 602.5,200.5 605.5,175.5 605.5,80.5"/>
<polyline points="229.5,365.5 300.5,360.5 360.5,356.5 420.5,350.5 480.5,340.5 552.5,321.5 572.5,300.5 587.5,281.5 596.5,248.5 601.5,224.5 604.5,200.5 605.5,185.5"/>
<polyline points="233.5,365.5 300.5,362.5 360.5,357.5 420.5,351.5 480.5,342.5 563.5,321.5 577.5,300.5 588.5,281.5 597.5,248.5 603.5,224.5 605.5,205.5"/>
<polyline points="237.5,365.5 300.5,362.5 360.5,358.5 420.5,352.5 480.5,345.5 549.5,335.5 563.5,321.5 580.5,300.5 590.5,281.5 598.5,248.5 605.5,224.5"/>
</g>
<clipPath id="dc"><polygon points="85.0,365.0 86.0,362.5 87.0,360.0 88.1,357.5 89.1,355.0 90.2,352.5 91.2,350.0 92.2,347.5 93.2,345.0 94.1,342.5 95.1,340.0 95.9,337.5 96.8,335.0 97.6,332.5 98.4,330.0 99.2,327.5 99.9,325.0 100.7,322.5 101.4,320.0 102.2,317.5 102.9,315.0 103.6,312.5 104.3,310.0 104.9,307.5 105.6,305.0 106.2,302.5 106.9,300.0 107.4,297.5 108.0,295.0 108.6,292.5 109.1,290.0 109.6,287.5 110.1,285.0 110.7,282.5 111.2,280.0 111.7,277.5 112.3,275.0 112.9,272.5 113.5,270.0 114.1,267.5 114.8,265.0 115.5,262.5 116.3,260.0 117.2,257.5 118.3,255.0 119.4,252.5 120.6,250.0 121.8,247.5 123.1,245.0 124.3,242.5 125.5,240.0 126.7,237.5 127.7,235.0 128.7,232.5 129.5,230.0 130.2,227.5 130.9,225.0 131.4,222.5 132.0,220.0 132.5,217.5 133.0,215.0 133.5,212.5 133.9,210.0 134.4,207.5 134.9,205.0 135.4,202.5 135.9,200.0 136.5,197.5 137.1,195.0 137.8,192.5 138.7,190.0 139.6,187.5 140.7,185.0 141.8,182.5 143.0,180.0 144.2,177.5 145.5,175.0 146.7,172.5 147.9,170.0 149.0,167.5 150.0,165.0 150.9,162.5 151.8,160.0 152.7,157.5 153.5,155.0 154.3,152.5 155.1,150.0 155.8,147.5 156.6,145.0 157.3,142.5 158.1,140.0 158.9,137.5 159.7,135.0 160.5,132.5 161.3,130.0 162.2,127.5 163.1,125.0 164.1,122.5 165.1,120.0 166.2,117.5 167.3,115.0 168.4,112.5 169.6,110.0 170.8,107.5 171.9,105.0 173.1,102.5 174.3,100.0 175.4,97.5 176.6,95.0 177.7,92.5 178.7,90.0 179.8,87.5 180.9,85.0 181.9,82.5 183.0,80.0 292.0,80.0 289.7,82.5 287.4,85.0 285.1,87.5 282.8,90.0 280.4,92.5 278.1,95.0 275.8,97.5 273.5,100.0 271.2,102.5 268.9,105.0 266.6,107.5 264.2,110.0 261.9,112.5 259.6,115.0 257.3,117.5 255.0,120.0 252.6,122.5 250.2,125.0 247.7,127.5 245.2,130.0 242.7,132.5 240.2,135.0 237.6,137.5 235.1,140.0 232.7,142.5 230.3,145.0 227.9,147.5 225.7,150.0 223.6,152.5 221.6,155.0 219.7,157.5 218.0,160.0 216.4,162.5 214.9,165.0 213.5,167.5 212.1,170.0 210.8,172.5 209.5,175.0 208.3,177.5 207.1,180.0 206.0,182.5 204.8,185.0 203.7,187.5 202.6,190.0 201.4,192.5 200.3,195.0 199.2,197.5 198.0,200.0 196.8,202.5 195.7,205.0 194.5,207.5 193.4,210.0 192.2,212.5 191.1,215.0 190.0,217.5 188.9,220.0 187.8,222.5 186.7,225.0 185.6,227.5 184.5,230.0 183.3,232.5 182.2,235.0 181.1,237.5 180.0,240.0 178.9,242.5 177.8,245.0 176.6,247.5 175.5,250.0 174.4,252.5 173.2,255.0 172.1,257.5 171.0,260.0 169.9,262.5 168.8,265.0 167.6,267.5 166.5,270.0 165.4,272.5 164.2,275.0 163.1,277.5 162.0,280.0 160.9,282.5 159.7,285.0 158.5,287.5 157.3,290.0 156.2,292.5 155.0,295.0 153.8,297.5 152.6,300.0 151.4,302.5 150.3,305.0 149.1,307.5 148.0,310.0 147.0,312.5 145.9,315.0 144.9,317.5 144.0,320.0 143.1,322.5 142.2,325.0 141.4,327.5 140.5,330.0 139.7,332.5 138.9,335.0 138.2,337.5 137.4,340.0 136.7,342.5 135.9,345.0 135.2,347.5 134.5,350.0 133.7,352.5 133.0,355.0 132.3,357.5 131.5,360.0 130.8,362.5 130.0,365.0"/><polygon points="108.0,365.0 115.7,362.5 123.4,360.0 131.1,357.5 138.8,355.0 146.5,352.5 154.0,350.0 161.5,347.5 169.0,345.0 176.5,342.5 183.8,340.0 191.0,337.5 197.9,335.0 204.2,332.5 210.4,330.0 216.5,327.5 222.4,325.0 228.2,322.5 233.9,320.0 239.4,317.5 244.6,315.0 249.7,312.5 254.5,310.0 259.1,307.5 263.4,305.0 267.3,302.5 270.9,300.0 274.1,297.5 277.2,295.0 280.0,292.5 282.8,290.0 285.7,287.5 288.6,285.0 291.8,282.5 295.3,280.0 299.2,277.5 303.6,275.0 308.6,272.5 314.2,270.0 320.2,267.5 326.5,265.0 332.9,262.5 339.4,260.0 345.8,257.5 352.0,255.0 357.9,252.5 363.5,250.0 369.2,247.5 374.9,245.0 380.6,242.5 386.2,240.0 391.7,237.5 397.1,235.0 402.3,232.5 407.3,230.0 412.0,227.5 416.3,225.0 420.4,222.5 424.1,220.0 427.7,217.5 431.0,215.0 434.2,212.5 437.3,210.0 440.4,207.5 443.5,205.0 446.7,202.5 450.0,200.0 453.5,197.5 457.2,195.0 461.0,192.5 464.8,190.0 468.6,187.5 472.1,185.0 475.3,182.5 478.1,180.0 480.4,177.5 482.5,175.0 484.4,172.5 486.2,170.0 487.8,167.5 489.4,165.0 490.9,162.5 492.3,160.0 493.7,157.5 495.0,155.0 496.3,152.5 497.5,150.0 498.7,147.5 500.0,145.0 501.2,142.5 502.4,140.0 503.6,137.5 504.8,135.0 505.9,132.5 507.0,130.0 508.1,127.5 509.1,125.0 510.1,122.5 511.1,120.0 512.1,117.5 513.1,115.0 514.1,112.5 515.0,110.0 515.9,107.5 516.8,105.0 517.7,102.5 518.5,100.0 519.3,97.5 520.2,95.0 521.0,92.5 521.8,90.0 522.6,87.5 523.4,85.0 524.2,82.5 525.0,80.0 596.0,80.0 595.3,82.5 594.7,85.0 594.0,87.5 593.3,90.0 592.7,92.5 592.0,95.0 591.3,97.5 590.6,100.0 590.0,102.5 589.3,105.0 588.6,107.5 587.9,110.0 587.2,112.5 586.5,115.0 585.7,117.5 585.0,120.0 584.2,122.5 583.5,125.0 582.7,127.5 581.9,130.0 581.1,132.5 580.3,135.0 579.5,137.5 578.6,140.0 577.8,142.5 576.9,145.0 576.0,147.5 575.0,150.0 574.0,152.5 573.0,155.0 571.9,157.5 570.9,160.0 569.8,162.5 568.6,165.0 567.4,167.5 566.2,170.0 565.0,172.5 563.7,175.0 562.4,177.5 561.1,180.0 559.7,182.5 558.3,185.0 556.8,187.5 555.3,190.0 553.8,192.5 552.1,195.0 550.5,197.5 548.8,200.0 547.0,202.5 545.2,205.0 543.4,207.5 541.5,210.0 539.6,212.5 537.7,215.0 535.7,217.5 533.6,220.0 531.5,222.5 529.4,225.0 527.2,227.5 524.9,230.0 522.6,232.5 520.2,235.0 517.8,237.5 515.3,240.0 512.7,242.5 510.0,245.0 507.2,247.5 504.3,250.0 501.2,252.5 498.1,255.0 494.8,257.5 491.4,260.0 488.0,262.5 484.4,265.0 480.9,267.5 477.3,270.0 473.6,272.5 470.0,275.0 466.3,277.5 462.5,280.0 458.7,282.5 454.7,285.0 450.7,287.5 446.6,290.0 442.5,292.5 438.4,295.0 434.2,297.5 430.0,300.0 426.0,302.5 422.2,305.0 418.5,307.5 414.5,310.0 410.0,312.5 404.8,315.0 398.6,317.5 390.1,320.0 379.2,322.5 366.8,325.0 353.5,327.5 340.2,330.0 327.5,332.5 314.9,335.0 302.0,337.5 288.8,340.0 275.5,342.5 262.1,345.0 248.8,347.5 235.5,350.0 222.6,352.5 209.9,355.0 197.3,357.5 184.9,360.0 172.5,362.5 160.0,365.0"/></clipPath>
<g clip-path="url(#dc)" stroke="#fff" stroke-width="1" stroke-dasharray="1 2" shape-rendering="crispEdges"><path d="M66 350.5H614" stroke-dashoffset="1"/><path d="M66 336.5H614" stroke-dashoffset="0"/><path d="M66 321.5H614" stroke-dashoffset="1"/><path d="M66 306.5H614" stroke-dashoffset="2"/><path d="M66 292.5H614" stroke-dashoffset="2"/><path d="M66 278.5H614" stroke-dashoffset="0"/><path d="M66 263.5H614" stroke-dashoffset="1"/><path d="M66 248.5H614" stroke-dashoffset="2"/><path d="M66 234.5H614" stroke-dashoffset="2"/><path d="M66 220.5H614" stroke-dashoffset="2"/><path d="M66 205.5H614" stroke-dashoffset="1"/><path d="M66 190.5H614" stroke-dashoffset="1"/><path d="M66 176.5H614" stroke-dashoffset="2"/><path d="M66 162.5H614" stroke-dashoffset="2"/><path d="M66 147.5H614" stroke-dashoffset="0"/><path d="M66 132.5H614" stroke-dashoffset="0"/><path d="M66 118.5H614" stroke-dashoffset="2"/><path d="M66 104.5H614" stroke-dashoffset="1"/><path d="M66 89.5H614" stroke-dashoffset="1"/></g>
<g fill="none" stroke-width="2" stroke-linejoin="round">
<polyline stroke="#000" points="110.0,365.0 117.1,362.5 124.2,360.0 131.4,357.5 138.5,355.0 145.7,352.5 152.9,350.0 160.3,347.5 167.7,345.0 175.2,342.5 182.7,340.0 190.0,337.5 197.2,335.0 204.2,332.5 211.2,330.0 218.1,327.5 224.8,325.0 231.4,322.5 237.6,320.0 243.5,317.5 249.1,315.0 254.5,312.5 259.7,310.0 264.8,307.5 269.9,305.0 274.9,302.5 280.0,300.0 285.1,297.5 290.1,295.0 295.0,292.5 300.0,290.0 304.9,287.5 309.8,285.0 314.5,282.5 319.4,280.0 324.2,277.5 329.3,275.0 334.5,272.5 340.0,270.0 346.1,267.5 352.7,265.0 358.9,262.5 364.3,260.0 369.5,257.5 374.4,255.0 379.1,252.5 383.7,250.0 388.3,247.5 392.8,245.0 397.4,242.5 402.1,240.0 407.0,237.5 412.1,235.0 417.6,232.5 423.4,230.0 429.2,227.5 434.9,225.0 440.2,222.5 445.0,220.0 449.1,217.5 452.8,215.0 456.4,212.5 460.3,210.0 464.7,207.5 469.7,205.0 475.1,202.5 480.6,200.0 486.2,197.5 491.8,195.0 497.0,192.5 501.9,190.0 506.6,187.5 510.8,185.0 514.7,182.5 518.4,180.0 521.8,177.5 524.9,175.0 527.5,172.5 529.7,170.0 531.5,167.5 533.1,165.0 534.6,162.5 536.3,160.0 537.9,157.5 539.5,155.0 541.1,152.5 542.6,150.0 544.2,147.5 545.9,145.0 547.7,142.5 549.6,140.0 551.8,137.5 554.5,135.0 558.1,132.5 561.8,130.0 564.7,127.5 567.2,125.0 569.5,122.5 571.6,120.0 573.5,117.5 575.1,115.0 576.6,112.5 577.9,110.0 579.2,107.5 580.3,105.0 581.4,102.5 582.5,100.0 583.4,97.5 584.4,95.0 585.2,92.5 586.0,90.0 586.8,87.5 587.5,85.0 588.2,82.5 589.0,80.0"/>
<polyline stroke="#000" points="113.0,365.0 119.9,362.5 126.5,360.0 133.2,357.5 140.4,355.0 148.3,352.5 157.7,350.0 168.9,347.5 180.7,345.0 192.2,342.5 202.3,340.0 211.3,337.5 219.8,335.0 227.9,332.5 235.7,330.0 243.3,327.5 250.7,325.0 257.9,322.5 264.9,320.0 271.6,317.5 278.2,315.0 284.4,312.5 290.1,310.0 296.0,307.5 302.9,305.0 311.1,302.5 320.2,300.0 329.8,297.5 339.5,295.0 348.7,292.5 357.0,290.0 364.2,287.5 371.0,285.0 377.5,282.5 383.6,280.0 389.3,277.5 394.8,275.0 400.0,272.5 404.6,270.0 409.1,267.5 413.8,265.0 418.6,262.5 423.6,260.0 428.6,257.5 433.6,255.0 438.6,252.5 443.4,250.0 448.2,247.5 452.7,245.0 457.1,242.5 461.1,240.0 465.0,237.5 468.8,235.0 472.4,232.5 476.0,230.0 479.4,227.5 482.8,225.0 486.0,222.5 489.2,220.0 492.3,217.5 495.4,215.0 498.3,212.5 501.2,210.0 503.9,207.5 506.5,205.0 509.1,202.5 511.6,200.0 514.2,197.5 516.8,195.0 519.5,192.5 522.4,190.0 525.3,187.5 528.2,185.0 531.2,182.5 534.2,180.0 537.1,177.5 539.9,175.0 542.6,172.5 545.1,170.0 547.4,167.5 549.6,165.0 551.7,162.5 553.7,160.0 555.6,157.5 557.5,155.0 559.2,152.5 560.9,150.0 562.6,147.5 564.2,145.0 565.8,142.5 567.3,140.0 568.7,137.5 570.1,135.0 571.5,132.5 572.8,130.0 574.2,127.5 575.7,125.0 577.2,122.5 578.7,120.0 580.2,117.5 581.8,115.0 583.2,112.5 584.5,110.0 585.8,107.5 586.8,105.0 587.7,102.5 588.5,100.0 589.3,97.5 590.0,95.0 590.7,92.5 591.3,90.0 592.0,87.5 592.6,85.0 593.3,82.5 594.0,80.0"/>
<polyline stroke="#000" points="143.0,365.0 151.9,362.5 161.1,360.0 170.3,357.5 179.4,355.0 188.0,352.5 196.1,350.0 203.4,347.5 210.0,345.0 216.2,342.5 222.1,340.0 227.9,337.5 234.0,335.0 240.5,332.5 247.7,330.0 255.3,327.5 263.1,325.0 270.6,322.5 277.5,320.0 283.4,317.5 288.5,315.0 293.4,312.5 299.0,310.0 306.0,307.5 314.4,305.0 323.7,302.5 333.4,300.0 343.0,297.5 352.0,295.0 360.0,292.5 367.2,290.0 374.0,287.5 380.5,285.0 386.7,282.5 392.5,280.0 398.0,277.5 402.9,275.0 407.3,272.5 411.8,270.0 416.5,267.5 421.3,265.0 426.1,262.5 430.9,260.0 435.7,257.5 440.4,255.0 445.1,252.5 449.6,250.0 453.9,247.5 458.1,245.0 462.0,242.5 465.7,240.0 469.2,237.5 472.6,235.0 476.0,232.5 479.5,230.0 483.1,227.5 486.6,225.0 490.1,222.5 493.6,220.0 497.1,217.5 500.5,215.0 503.9,212.5 507.3,210.0 510.6,207.5 513.9,205.0 517.2,202.5 520.6,200.0 523.9,197.5 527.3,195.0 530.9,192.5 534.7,190.0 538.5,187.5 542.3,185.0 546.1,182.5 549.7,180.0 553.1,177.5 556.3,175.0 559.2,172.5 561.7,170.0 564.0,167.5 566.2,165.0 568.3,162.5 570.2,160.0 572.0,157.5 573.7,155.0 575.2,152.5 576.5,150.0 577.7,147.5 578.7,145.0 579.7,142.5 580.5,140.0 581.3,137.5 582.1,135.0 582.9,132.5 583.6,130.0 584.4,127.5 585.2,125.0 586.0,122.5 586.9,120.0 587.8,117.5 588.6,115.0 589.5,112.5 590.3,110.0 591.2,107.5 592.0,105.0 592.8,102.5 593.6,100.0 594.3,97.5 595.1,95.0 595.8,92.5 596.5,90.0 597.3,87.5 598.0,85.0 598.8,82.5 599.5,80.0"/>
<polyline stroke="#000" points="146.0,365.0 156.4,362.5 166.9,360.0 177.3,357.5 187.7,355.0 198.0,352.5 208.2,350.0 218.5,347.5 228.6,345.0 238.2,342.5 247.2,340.0 256.1,337.5 264.6,335.0 272.6,332.5 280.0,330.0 286.4,327.5 292.2,325.0 298.6,322.5 306.7,320.0 316.7,317.5 327.1,315.0 336.5,312.5 343.6,310.0 349.2,307.5 354.2,305.0 359.0,302.5 363.9,300.0 368.6,297.5 373.2,295.0 377.6,292.5 382.0,290.0 386.4,287.5 390.9,285.0 395.4,282.5 400.0,280.0 404.9,277.5 410.0,275.0 415.5,272.5 421.3,270.0 427.5,267.5 433.7,265.0 440.0,262.5 446.2,260.0 452.2,257.5 457.9,255.0 463.1,252.5 468.0,250.0 472.8,247.5 477.3,245.0 481.9,242.5 486.4,240.0 491.0,237.5 495.4,235.0 499.8,232.5 504.0,230.0 507.9,227.5 511.6,225.0 514.9,222.5 517.9,220.0 520.5,217.5 523.0,215.0 525.3,212.5 527.6,210.0 530.1,207.5 532.5,205.0 534.9,202.5 537.4,200.0 539.9,197.5 542.3,195.0 544.8,192.5 547.2,190.0 549.6,187.5 552.0,185.0 554.4,182.5 556.6,180.0 558.9,177.5 561.1,175.0 563.2,172.5 565.2,170.0 567.1,167.5 569.0,165.0 570.8,162.5 572.6,160.0 574.4,157.5 576.1,155.0 577.8,152.5 579.3,150.0 580.8,147.5 582.1,145.0 583.3,142.5 584.3,140.0 585.1,137.5 585.8,135.0 586.5,132.5 587.1,130.0 587.8,127.5 588.7,125.0 589.5,122.5 590.4,120.0 591.4,117.5 592.3,115.0 593.1,112.5 593.9,110.0 594.6,107.5 595.3,105.0 595.9,102.5 596.4,100.0 597.0,97.5 597.5,95.0 598.0,92.5 598.5,90.0 599.0,87.5 599.5,85.0 600.0,82.5 600.5,80.0"/>
<polyline stroke="#0000ff" points="116.0,365.0 125.9,362.5 135.6,360.0 145.5,357.5 155.8,355.0 166.6,352.5 178.0,350.0 189.8,347.5 201.4,345.0 212.7,342.5 224.0,340.0 235.6,337.5 248.3,335.0 262.1,332.5 275.3,330.0 286.5,327.5 296.4,325.0 305.1,322.5 313.4,320.0 321.2,317.5 328.7,315.0 335.9,312.5 342.8,310.0 349.4,307.5 355.9,305.0 362.3,302.5 368.3,300.0 374.2,297.5 379.8,295.0 385.3,292.5 390.7,290.0 396.1,287.5 401.4,285.0 406.8,282.5 412.2,280.0 417.7,277.5 423.2,275.0 428.7,272.5 434.2,270.0 439.6,267.5 444.9,265.0 450.1,262.5 455.1,260.0 459.8,257.5 464.3,255.0 468.6,252.5 472.7,250.0 476.7,247.5 480.8,245.0 485.1,242.5 489.4,240.0 493.9,237.5 498.3,235.0 502.5,232.5 506.5,230.0 510.2,227.5 513.5,225.0 516.6,222.5 519.5,220.0 522.4,217.5 525.3,215.0 528.3,212.5 531.7,210.0 535.2,207.5 538.8,205.0 542.2,202.5 545.3,200.0 547.8,197.5 549.9,195.0 552.0,192.5 553.9,190.0 555.7,187.5 557.4,185.0 559.0,182.5 560.6,180.0 562.0,177.5 563.5,175.0 564.9,172.5 566.2,170.0 567.6,167.5 568.9,165.0 570.3,162.5 571.7,160.0 573.1,157.5 574.4,155.0 575.7,152.5 577.0,150.0 578.2,147.5 579.4,145.0 580.6,142.5 581.8,140.0 583.0,137.5 584.3,135.0 585.5,132.5 586.8,130.0 588.2,127.5 589.6,125.0 591.1,122.5 592.5,120.0 593.8,117.5 595.1,115.0 596.2,112.5 597.1,110.0 597.8,107.5 598.4,105.0 598.9,102.5 599.4,100.0 599.9,97.5 600.3,95.0 600.6,92.5 601.0,90.0 601.3,87.5 601.7,85.0 602.1,82.5 602.5,80.0"/>
</g>
<rect x="65.5" y="65.5" width="550" height="310" fill="none" stroke="#000" stroke-width="1"/>
<path d="M128.5 375V369 M128.5 65V71 M181.5 375V364 M181.5 65V76 M234.5 375V369 M234.5 65V71 M287.5 375V364 M287.5 65V76 M340.5 375V369 M340.5 65V71 M393.5 375V364 M393.5 65V76 M446.5 375V369 M446.5 65V71 M499.5 375V364 M499.5 65V76 M552.5 375V369 M552.5 65V71 M605.5 375V364 M605.5 65V76 M65 75.5H76 M616 75.5H605 M65 104.5H71 M616 104.5H610 M65 133.5H71 M616 133.5H610 M65 162.5H71 M616 162.5H610 M65 191.5H71 M616 191.5H610 M65 220.5H76 M616 220.5H605 M65 249.5H71 M616 249.5H610 M65 278.5H71 M616 278.5H610 M65 307.5H71 M616 307.5H610 M65 336.5H71 M616 336.5H610" stroke="#000" stroke-width="1" fill="none" shape-rendering="crispEdges"/>
<text x="310" y="30">T1041-D1</text>
<text x="220" y="420">Percent of Residues (CA)</text>
<text transform="translate(31,319) rotate(-90)">Distance Cutoff, A</text>
<g text-anchor="middle">
<text x="65" y="395">0</text><text x="181" y="395">20</text><text x="287" y="395">40</text><text x="393" y="395">60</text><text x="499" y="395">80</text><text x="605" y="395">100</text>
<text transform="translate(56,375) rotate(-90)">0</text>
<text transform="translate(56,220) rotate(-90)">5</text>
<text transform="translate(56,65) rotate(-90)">10</text>
</g>
</svg>
</body></html>
